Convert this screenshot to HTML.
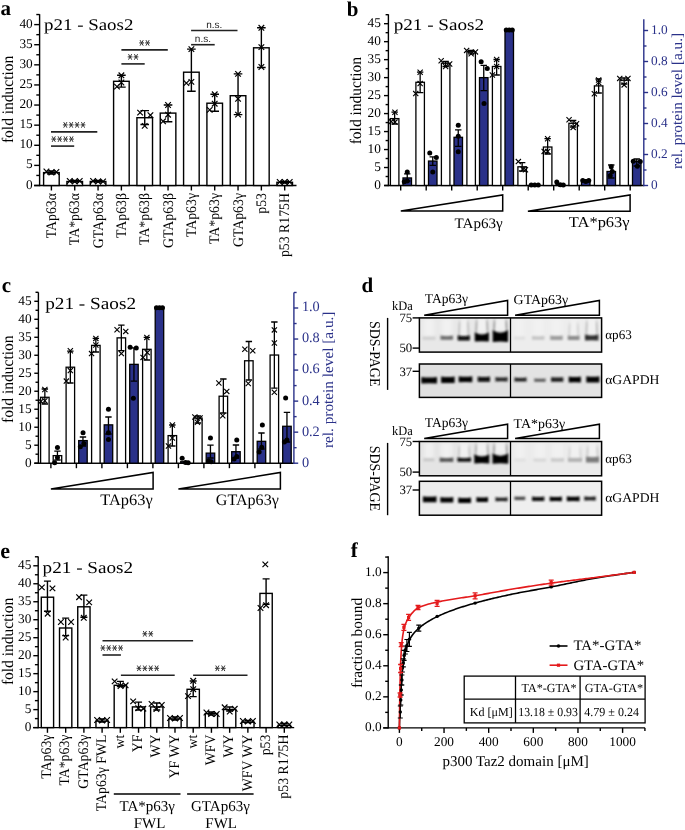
<!DOCTYPE html>
<html><head><meta charset="utf-8"><style>
html,body{margin:0;padding:0;background:#fff;}
svg{display:block;will-change:transform;}
text{text-rendering:geometricPrecision;}
</style></head><body>
<svg width="685" height="830" viewBox="0 0 685 830">
<rect width="685" height="830" fill="#fff"/>
<text x="0.5" y="14.7" font-family="&quot;Liberation Serif&quot;,serif" font-size="21" text-anchor="start" font-weight="bold" fill="#000" >a</text>
<line x1="39.6" y1="14.2" x2="39.6" y2="186.2" stroke="#000" stroke-width="1.4" />
<line x1="39.6" y1="185.5" x2="34.2" y2="185.5" stroke="#000" stroke-width="1.4" />
<text x="32.7" y="188.5" font-family="&quot;Liberation Serif&quot;,serif" font-size="13.3" text-anchor="end" font-weight="normal" fill="#000" >0</text>
<line x1="39.6" y1="165.39" x2="34.2" y2="165.39" stroke="#000" stroke-width="1.4" />
<text x="32.7" y="168.39" font-family="&quot;Liberation Serif&quot;,serif" font-size="13.3" text-anchor="end" font-weight="normal" fill="#000" >5</text>
<line x1="39.6" y1="145.28" x2="34.2" y2="145.28" stroke="#000" stroke-width="1.4" />
<text x="32.7" y="148.28" font-family="&quot;Liberation Serif&quot;,serif" font-size="13.3" text-anchor="end" font-weight="normal" fill="#000" >10</text>
<line x1="39.6" y1="125.16" x2="34.2" y2="125.16" stroke="#000" stroke-width="1.4" />
<text x="32.7" y="128.16" font-family="&quot;Liberation Serif&quot;,serif" font-size="13.3" text-anchor="end" font-weight="normal" fill="#000" >15</text>
<line x1="39.6" y1="105.05" x2="34.2" y2="105.05" stroke="#000" stroke-width="1.4" />
<text x="32.7" y="108.05" font-family="&quot;Liberation Serif&quot;,serif" font-size="13.3" text-anchor="end" font-weight="normal" fill="#000" >20</text>
<line x1="39.6" y1="84.94" x2="34.2" y2="84.94" stroke="#000" stroke-width="1.4" />
<text x="32.7" y="87.94" font-family="&quot;Liberation Serif&quot;,serif" font-size="13.3" text-anchor="end" font-weight="normal" fill="#000" >25</text>
<line x1="39.6" y1="64.83" x2="34.2" y2="64.83" stroke="#000" stroke-width="1.4" />
<text x="32.7" y="67.83" font-family="&quot;Liberation Serif&quot;,serif" font-size="13.3" text-anchor="end" font-weight="normal" fill="#000" >30</text>
<line x1="39.6" y1="44.71" x2="34.2" y2="44.71" stroke="#000" stroke-width="1.4" />
<text x="32.7" y="47.71" font-family="&quot;Liberation Serif&quot;,serif" font-size="13.3" text-anchor="end" font-weight="normal" fill="#000" >35</text>
<line x1="39.6" y1="24.6" x2="34.2" y2="24.6" stroke="#000" stroke-width="1.4" />
<text x="32.7" y="27.6" font-family="&quot;Liberation Serif&quot;,serif" font-size="13.3" text-anchor="end" font-weight="normal" fill="#000" >40</text>
<line x1="39.6" y1="175.44" x2="36.3" y2="175.44" stroke="#000" stroke-width="1.4" />
<line x1="39.6" y1="155.33" x2="36.3" y2="155.33" stroke="#000" stroke-width="1.4" />
<line x1="39.6" y1="135.22" x2="36.3" y2="135.22" stroke="#000" stroke-width="1.4" />
<line x1="39.6" y1="115.11" x2="36.3" y2="115.11" stroke="#000" stroke-width="1.4" />
<line x1="39.6" y1="94.99" x2="36.3" y2="94.99" stroke="#000" stroke-width="1.4" />
<line x1="39.6" y1="74.88" x2="36.3" y2="74.88" stroke="#000" stroke-width="1.4" />
<line x1="39.6" y1="54.77" x2="36.3" y2="54.77" stroke="#000" stroke-width="1.4" />
<line x1="39.6" y1="34.66" x2="36.3" y2="34.66" stroke="#000" stroke-width="1.4" />
<line x1="39.6" y1="14.54" x2="36.3" y2="14.54" stroke="#000" stroke-width="1.4" />
<line x1="34.1" y1="185.5" x2="296.5" y2="185.5" stroke="#000" stroke-width="1.4" />
<text x="13" y="99.4" font-family="&quot;Liberation Serif&quot;,serif" font-size="16.1" text-anchor="middle" font-weight="normal" fill="#000" transform="rotate(-90 13 99.4)" textLength="87.39" lengthAdjust="spacingAndGlyphs" >fold induction</text>
<text x="44.1" y="30.4" font-family="&quot;Liberation Serif&quot;,serif" font-size="16.3" text-anchor="start" font-weight="normal" fill="#000" textLength="89.3" lengthAdjust="spacingAndGlyphs" >p21 - Saos2</text>
<rect x="43.6" y="172.6" width="15.6" height="12.9" fill="#fff" stroke="#000" stroke-width="1.4" />
<line x1="51.4" y1="185.5" x2="51.4" y2="190.5" stroke="#000" stroke-width="1.4" />
<text x="56" y="193" font-family="&quot;Liberation Serif&quot;,serif" font-size="14.6" text-anchor="end" font-weight="normal" fill="#000" transform="rotate(-90 56 193)" textLength="45.22" lengthAdjust="spacingAndGlyphs" >TAp63α</text>
<rect x="66.93" y="181.5" width="15.6" height="4" fill="#fff" stroke="#000" stroke-width="1.4" />
<line x1="74.73" y1="185.5" x2="74.73" y2="190.5" stroke="#000" stroke-width="1.4" />
<text x="79.33" y="193" font-family="&quot;Liberation Serif&quot;,serif" font-size="14.6" text-anchor="end" font-weight="normal" fill="#000" transform="rotate(-90 79.33 193)" textLength="52.12" lengthAdjust="spacingAndGlyphs" >TA*p63α</text>
<rect x="90.26" y="181.5" width="15.6" height="4" fill="#fff" stroke="#000" stroke-width="1.4" />
<line x1="98.06" y1="185.5" x2="98.06" y2="190.5" stroke="#000" stroke-width="1.4" />
<text x="102.66" y="193" font-family="&quot;Liberation Serif&quot;,serif" font-size="14.6" text-anchor="end" font-weight="normal" fill="#000" transform="rotate(-90 102.66 193)" textLength="55.19" lengthAdjust="spacingAndGlyphs" >GTAp63α</text>
<rect x="113.59" y="81.3" width="15.6" height="104.2" fill="#fff" stroke="#000" stroke-width="1.4" />
<line x1="121.39" y1="185.5" x2="121.39" y2="190.5" stroke="#000" stroke-width="1.4" />
<text x="125.99" y="193" font-family="&quot;Liberation Serif&quot;,serif" font-size="14.6" text-anchor="end" font-weight="normal" fill="#000" transform="rotate(-90 125.99 193)" textLength="45.01" lengthAdjust="spacingAndGlyphs" >TAp63β</text>
<rect x="136.92" y="117.7" width="15.6" height="67.8" fill="#fff" stroke="#000" stroke-width="1.4" />
<line x1="144.72" y1="185.5" x2="144.72" y2="190.5" stroke="#000" stroke-width="1.4" />
<text x="149.32" y="193" font-family="&quot;Liberation Serif&quot;,serif" font-size="14.6" text-anchor="end" font-weight="normal" fill="#000" transform="rotate(-90 149.32 193)" textLength="51.91" lengthAdjust="spacingAndGlyphs" >TA*p63β</text>
<rect x="160.25" y="113.1" width="15.6" height="72.4" fill="#fff" stroke="#000" stroke-width="1.4" />
<line x1="168.05" y1="185.5" x2="168.05" y2="190.5" stroke="#000" stroke-width="1.4" />
<text x="172.65" y="193" font-family="&quot;Liberation Serif&quot;,serif" font-size="14.6" text-anchor="end" font-weight="normal" fill="#000" transform="rotate(-90 172.65 193)" textLength="54.98" lengthAdjust="spacingAndGlyphs" >GTAp63β</text>
<rect x="183.58" y="72.2" width="15.6" height="113.3" fill="#fff" stroke="#000" stroke-width="1.4" />
<line x1="191.38" y1="185.5" x2="191.38" y2="190.5" stroke="#000" stroke-width="1.4" />
<text x="195.98" y="193" font-family="&quot;Liberation Serif&quot;,serif" font-size="14.6" text-anchor="end" font-weight="normal" fill="#000" transform="rotate(-90 195.98 193)" textLength="44.09" lengthAdjust="spacingAndGlyphs" >TAp63γ</text>
<rect x="206.91" y="103.2" width="15.6" height="82.3" fill="#fff" stroke="#000" stroke-width="1.4" />
<line x1="214.71" y1="185.5" x2="214.71" y2="190.5" stroke="#000" stroke-width="1.4" />
<text x="219.31" y="193" font-family="&quot;Liberation Serif&quot;,serif" font-size="14.6" text-anchor="end" font-weight="normal" fill="#000" transform="rotate(-90 219.31 193)" textLength="50.99" lengthAdjust="spacingAndGlyphs" >TA*p63γ</text>
<rect x="230.24" y="95.7" width="15.6" height="89.8" fill="#fff" stroke="#000" stroke-width="1.4" />
<line x1="238.04" y1="185.5" x2="238.04" y2="190.5" stroke="#000" stroke-width="1.4" />
<text x="242.64" y="193" font-family="&quot;Liberation Serif&quot;,serif" font-size="14.6" text-anchor="end" font-weight="normal" fill="#000" transform="rotate(-90 242.64 193)" textLength="54.05" lengthAdjust="spacingAndGlyphs" >GTAp63γ</text>
<rect x="253.57" y="47.8" width="15.6" height="137.7" fill="#fff" stroke="#000" stroke-width="1.4" />
<line x1="261.37" y1="185.5" x2="261.37" y2="190.5" stroke="#000" stroke-width="1.4" />
<text x="265.97" y="193" font-family="&quot;Liberation Serif&quot;,serif" font-size="14.6" text-anchor="end" font-weight="normal" fill="#000" transform="rotate(-90 265.97 193)" textLength="20.7" lengthAdjust="spacingAndGlyphs" >p53</text>
<rect x="276.9" y="182.3" width="15.6" height="3.2" fill="#fff" stroke="#000" stroke-width="1.4" />
<line x1="284.7" y1="185.5" x2="284.7" y2="190.5" stroke="#000" stroke-width="1.4" />
<text x="289.3" y="193" font-family="&quot;Liberation Serif&quot;,serif" font-size="14.6" text-anchor="end" font-weight="normal" fill="#000" transform="rotate(-90 289.3 193)" textLength="64.02" lengthAdjust="spacingAndGlyphs" >p53 R175H</text>
<path d="M51.4,171V174M47.1,171H55.7M47.1,174H55.7" stroke="#000" stroke-width="1.4" fill="none"/>
<path d="M43.6,168.7L49.2,174.3M43.6,174.3L49.2,168.7" stroke="#000" stroke-width="1.2" fill="none"/>
<path d="M48.6,169.7L54.2,175.3M48.6,175.3L54.2,169.7" stroke="#000" stroke-width="1.2" fill="none"/>
<path d="M53.6,169.2L59.2,174.8M53.6,174.8L59.2,169.2" stroke="#000" stroke-width="1.2" fill="none"/>
<path d="M74.73,180.5V182M70.43,180.5H79.03M70.43,182H79.03" stroke="#000" stroke-width="1.4" fill="none"/>
<path d="M66.93,178.2L72.53,183.8M66.93,183.8L72.53,178.2" stroke="#000" stroke-width="1.2" fill="none"/>
<path d="M71.93,178.7L77.53,184.3M71.93,184.3L77.53,178.7" stroke="#000" stroke-width="1.2" fill="none"/>
<path d="M76.93,178.2L82.53,183.8M76.93,183.8L82.53,178.2" stroke="#000" stroke-width="1.2" fill="none"/>
<path d="M98.06,180.5V182M93.76,180.5H102.36M93.76,182H102.36" stroke="#000" stroke-width="1.4" fill="none"/>
<path d="M90.26,178.2L95.86,183.8M90.26,183.8L95.86,178.2" stroke="#000" stroke-width="1.2" fill="none"/>
<path d="M95.26,178.7L100.86,184.3M95.26,184.3L100.86,178.7" stroke="#000" stroke-width="1.2" fill="none"/>
<path d="M100.26,178.7L105.86,184.3M100.26,184.3L105.86,178.7" stroke="#000" stroke-width="1.2" fill="none"/>
<path d="M121.39,75.3V87.1M117.09,75.3H125.69M117.09,87.1H125.69" stroke="#000" stroke-width="1.4" fill="none"/>
<path d="M118.59,72.5L124.19,78.1M118.59,78.1L124.19,72.5" stroke="#000" stroke-width="1.2" fill="none"/>
<path d="M118.59,79.7L124.19,85.3M118.59,85.3L124.19,79.7" stroke="#000" stroke-width="1.2" fill="none"/>
<path d="M114.19,83.8L119.79,89.4M114.19,89.4L119.79,83.8" stroke="#000" stroke-width="1.2" fill="none"/>
<path d="M144.72,110.6V124.5M140.42,110.6H149.02M140.42,124.5H149.02" stroke="#000" stroke-width="1.4" fill="none"/>
<path d="M137.32,109.8L142.92,115.4M137.32,115.4L142.92,109.8" stroke="#000" stroke-width="1.2" fill="none"/>
<path d="M147.62,112.4L153.22,118M147.62,118L153.22,112.4" stroke="#000" stroke-width="1.2" fill="none"/>
<path d="M141.92,123.1L147.52,128.7M141.92,128.7L147.52,123.1" stroke="#000" stroke-width="1.2" fill="none"/>
<path d="M168.05,105V121.8M163.75,105H172.35M163.75,121.8H172.35" stroke="#000" stroke-width="1.4" fill="none"/>
<path d="M165.25,102.2L170.85,107.8M165.25,107.8L170.85,102.2" stroke="#000" stroke-width="1.2" fill="none"/>
<path d="M165.25,111.9L170.85,117.5M165.25,117.5L170.85,111.9" stroke="#000" stroke-width="1.2" fill="none"/>
<path d="M160.25,118.5L165.85,124.1M160.25,124.1L165.85,118.5" stroke="#000" stroke-width="1.2" fill="none"/>
<path d="M191.38,49.1V91.3M187.08,49.1H195.68M187.08,91.3H195.68" stroke="#000" stroke-width="1.4" fill="none"/>
<path d="M188.58,46.3L194.18,51.9M188.58,51.9L194.18,46.3" stroke="#000" stroke-width="1.2" fill="none"/>
<path d="M183.58,80.3L189.18,85.9M183.58,85.9L189.18,80.3" stroke="#000" stroke-width="1.2" fill="none"/>
<path d="M188.58,79.1L194.18,84.7M188.58,84.7L194.18,79.1" stroke="#000" stroke-width="1.2" fill="none"/>
<path d="M214.71,94.3V111.2M210.41,94.3H219.01M210.41,111.2H219.01" stroke="#000" stroke-width="1.4" fill="none"/>
<path d="M211.91,91.5L217.51,97.1M211.91,97.1L217.51,91.5" stroke="#000" stroke-width="1.2" fill="none"/>
<path d="M211.91,100.9L217.51,106.5M211.91,106.5L217.51,100.9" stroke="#000" stroke-width="1.2" fill="none"/>
<path d="M206.91,107.1L212.51,112.7M206.91,112.7L212.51,107.1" stroke="#000" stroke-width="1.2" fill="none"/>
<path d="M238.04,73.9V114.6M233.74,73.9H242.34M233.74,114.6H242.34" stroke="#000" stroke-width="1.4" fill="none"/>
<path d="M235.24,71.1L240.84,76.7M235.24,76.7L240.84,71.1" stroke="#000" stroke-width="1.2" fill="none"/>
<path d="M235.24,96L240.84,101.6M235.24,101.6L240.84,96" stroke="#000" stroke-width="1.2" fill="none"/>
<path d="M235.24,111.8L240.84,117.4M235.24,117.4L240.84,111.8" stroke="#000" stroke-width="1.2" fill="none"/>
<path d="M261.37,27.8V67.5M257.07,27.8H265.67M257.07,67.5H265.67" stroke="#000" stroke-width="1.4" fill="none"/>
<path d="M258.57,25L264.17,30.6M258.57,30.6L264.17,25" stroke="#000" stroke-width="1.2" fill="none"/>
<path d="M258.57,44.3L264.17,49.9M258.57,49.9L264.17,44.3" stroke="#000" stroke-width="1.2" fill="none"/>
<path d="M258.57,64.2L264.17,69.8M258.57,69.8L264.17,64.2" stroke="#000" stroke-width="1.2" fill="none"/>
<path d="M284.7,181.5V183M280.4,181.5H289M280.4,183H289" stroke="#000" stroke-width="1.4" fill="none"/>
<path d="M276.9,179.2L282.5,184.8M276.9,184.8L282.5,179.2" stroke="#000" stroke-width="1.2" fill="none"/>
<path d="M281.9,179.2L287.5,184.8M281.9,184.8L287.5,179.2" stroke="#000" stroke-width="1.2" fill="none"/>
<path d="M286.9,179.2L292.5,184.8M286.9,184.8L292.5,179.2" stroke="#000" stroke-width="1.2" fill="none"/>
<line x1="51" y1="131.9" x2="97.3" y2="131.9" stroke="#222" stroke-width="1.6" />
<path d="M63.3,124.9L67.3,124.9M63.9,122.48L66.7,127.32M66.7,122.48L63.9,127.32M69.2,124.9L73.2,124.9M69.8,122.48L72.6,127.32M72.6,122.48L69.8,127.32M75.1,124.9L79.1,124.9M75.7,122.48L78.5,127.32M78.5,122.48L75.7,127.32M81,124.9L85,124.9M81.6,122.48L84.4,127.32M84.4,122.48L81.6,127.32" stroke="#333" stroke-width="1.0" fill="none" stroke-linecap="round"/>
<line x1="51" y1="146.1" x2="74.2" y2="146.1" stroke="#222" stroke-width="1.6" />
<path d="M51.75,139.1L55.75,139.1M52.35,136.68L55.15,141.52M55.15,136.68L52.35,141.52M57.65,139.1L61.65,139.1M58.25,136.68L61.05,141.52M61.05,136.68L58.25,141.52M63.55,139.1L67.55,139.1M64.15,136.68L66.95,141.52M66.95,136.68L64.15,141.52M69.45,139.1L73.45,139.1M70.05,136.68L72.85,141.52M72.85,136.68L70.05,141.52" stroke="#333" stroke-width="1.0" fill="none" stroke-linecap="round"/>
<line x1="121.4" y1="49.9" x2="167.8" y2="49.9" stroke="#222" stroke-width="1.6" />
<path d="M139.65,42.9L143.65,42.9M140.25,40.48L143.05,45.32M143.05,40.48L140.25,45.32M145.55,42.9L149.55,42.9M146.15,40.48L148.95,45.32M148.95,40.48L146.15,45.32" stroke="#333" stroke-width="1.0" fill="none" stroke-linecap="round"/>
<line x1="121.4" y1="63.9" x2="144.7" y2="63.9" stroke="#222" stroke-width="1.6" />
<path d="M128.1,56.9L132.1,56.9M128.7,54.48L131.5,59.32M131.5,54.48L128.7,59.32M134,56.9L138,56.9M134.6,54.48L137.4,59.32M137.4,54.48L134.6,59.32" stroke="#333" stroke-width="1.0" fill="none" stroke-linecap="round"/>
<line x1="191.1" y1="30.5" x2="237.5" y2="30.5" stroke="#222" stroke-width="1.6" />
<text x="214.3" y="27.8" font-family="&quot;Liberation Sans&quot;,sans-serif" font-size="10" text-anchor="middle" font-weight="normal" fill="#222" >n.s.</text>
<line x1="191.1" y1="44.7" x2="214.7" y2="44.7" stroke="#222" stroke-width="1.6" />
<text x="202.9" y="42" font-family="&quot;Liberation Sans&quot;,sans-serif" font-size="10" text-anchor="middle" font-weight="normal" fill="#222" >n.s.</text>
<text x="346.8" y="15.8" font-family="&quot;Liberation Serif&quot;,serif" font-size="21" text-anchor="start" font-weight="bold" fill="#000" >b</text>
<line x1="388.4" y1="14.3" x2="388.4" y2="186.2" stroke="#000" stroke-width="1.4" />
<line x1="388.4" y1="185.5" x2="384" y2="185.5" stroke="#000" stroke-width="1.4" />
<text x="380.8" y="188.7" font-family="&quot;Liberation Serif&quot;,serif" font-size="13.3" text-anchor="end" font-weight="normal" fill="#000" >0</text>
<line x1="388.4" y1="167.52" x2="384" y2="167.52" stroke="#000" stroke-width="1.4" />
<text x="380.8" y="170.72" font-family="&quot;Liberation Serif&quot;,serif" font-size="13.3" text-anchor="end" font-weight="normal" fill="#000" >5</text>
<line x1="388.4" y1="149.54" x2="384" y2="149.54" stroke="#000" stroke-width="1.4" />
<text x="380.8" y="152.74" font-family="&quot;Liberation Serif&quot;,serif" font-size="13.3" text-anchor="end" font-weight="normal" fill="#000" >10</text>
<line x1="388.4" y1="131.56" x2="384" y2="131.56" stroke="#000" stroke-width="1.4" />
<text x="380.8" y="134.76" font-family="&quot;Liberation Serif&quot;,serif" font-size="13.3" text-anchor="end" font-weight="normal" fill="#000" >15</text>
<line x1="388.4" y1="113.58" x2="384" y2="113.58" stroke="#000" stroke-width="1.4" />
<text x="380.8" y="116.78" font-family="&quot;Liberation Serif&quot;,serif" font-size="13.3" text-anchor="end" font-weight="normal" fill="#000" >20</text>
<line x1="388.4" y1="95.6" x2="384" y2="95.6" stroke="#000" stroke-width="1.4" />
<text x="380.8" y="98.8" font-family="&quot;Liberation Serif&quot;,serif" font-size="13.3" text-anchor="end" font-weight="normal" fill="#000" >25</text>
<line x1="388.4" y1="77.62" x2="384" y2="77.62" stroke="#000" stroke-width="1.4" />
<text x="380.8" y="80.82" font-family="&quot;Liberation Serif&quot;,serif" font-size="13.3" text-anchor="end" font-weight="normal" fill="#000" >30</text>
<line x1="388.4" y1="59.64" x2="384" y2="59.64" stroke="#000" stroke-width="1.4" />
<text x="380.8" y="62.84" font-family="&quot;Liberation Serif&quot;,serif" font-size="13.3" text-anchor="end" font-weight="normal" fill="#000" >35</text>
<line x1="388.4" y1="41.66" x2="384" y2="41.66" stroke="#000" stroke-width="1.4" />
<text x="380.8" y="44.86" font-family="&quot;Liberation Serif&quot;,serif" font-size="13.3" text-anchor="end" font-weight="normal" fill="#000" >40</text>
<line x1="388.4" y1="23.68" x2="384" y2="23.68" stroke="#000" stroke-width="1.4" />
<text x="380.8" y="26.88" font-family="&quot;Liberation Serif&quot;,serif" font-size="13.3" text-anchor="end" font-weight="normal" fill="#000" >45</text>
<line x1="388.4" y1="176.51" x2="385.6" y2="176.51" stroke="#000" stroke-width="1.4" />
<line x1="388.4" y1="158.53" x2="385.6" y2="158.53" stroke="#000" stroke-width="1.4" />
<line x1="388.4" y1="140.55" x2="385.6" y2="140.55" stroke="#000" stroke-width="1.4" />
<line x1="388.4" y1="122.57" x2="385.6" y2="122.57" stroke="#000" stroke-width="1.4" />
<line x1="388.4" y1="104.59" x2="385.6" y2="104.59" stroke="#000" stroke-width="1.4" />
<line x1="388.4" y1="86.61" x2="385.6" y2="86.61" stroke="#000" stroke-width="1.4" />
<line x1="388.4" y1="68.63" x2="385.6" y2="68.63" stroke="#000" stroke-width="1.4" />
<line x1="388.4" y1="50.65" x2="385.6" y2="50.65" stroke="#000" stroke-width="1.4" />
<line x1="388.4" y1="32.67" x2="385.6" y2="32.67" stroke="#000" stroke-width="1.4" />
<line x1="388.4" y1="14.69" x2="385.6" y2="14.69" stroke="#000" stroke-width="1.4" />
<line x1="384.3" y1="185.5" x2="643.8" y2="185.5" stroke="#000" stroke-width="1.4" />
<line x1="643.8" y1="19.2" x2="643.8" y2="186.2" stroke="#2a3189" stroke-width="1.4" />
<line x1="643.8" y1="185.5" x2="648.1" y2="185.5" stroke="#2a3189" stroke-width="1.4" />
<text x="651" y="188.7" font-family="&quot;Liberation Serif&quot;,serif" font-size="13.3" text-anchor="start" font-weight="normal" fill="#2a3189" >0</text>
<line x1="643.8" y1="154.5" x2="648.1" y2="154.5" stroke="#2a3189" stroke-width="1.4" />
<text x="651" y="157.7" font-family="&quot;Liberation Serif&quot;,serif" font-size="13.3" text-anchor="start" font-weight="normal" fill="#2a3189" >0.2</text>
<line x1="643.8" y1="123.5" x2="648.1" y2="123.5" stroke="#2a3189" stroke-width="1.4" />
<text x="651" y="126.7" font-family="&quot;Liberation Serif&quot;,serif" font-size="13.3" text-anchor="start" font-weight="normal" fill="#2a3189" >0.4</text>
<line x1="643.8" y1="92.5" x2="648.1" y2="92.5" stroke="#2a3189" stroke-width="1.4" />
<text x="651" y="95.7" font-family="&quot;Liberation Serif&quot;,serif" font-size="13.3" text-anchor="start" font-weight="normal" fill="#2a3189" >0.6</text>
<line x1="643.8" y1="61.5" x2="648.1" y2="61.5" stroke="#2a3189" stroke-width="1.4" />
<text x="651" y="64.7" font-family="&quot;Liberation Serif&quot;,serif" font-size="13.3" text-anchor="start" font-weight="normal" fill="#2a3189" >0.8</text>
<line x1="643.8" y1="30.5" x2="648.1" y2="30.5" stroke="#2a3189" stroke-width="1.4" />
<text x="651" y="33.7" font-family="&quot;Liberation Serif&quot;,serif" font-size="13.3" text-anchor="start" font-weight="normal" fill="#2a3189" >1.0</text>
<line x1="643.8" y1="170" x2="646.5" y2="170" stroke="#2a3189" stroke-width="1.4" />
<line x1="643.8" y1="139" x2="646.5" y2="139" stroke="#2a3189" stroke-width="1.4" />
<line x1="643.8" y1="108" x2="646.5" y2="108" stroke="#2a3189" stroke-width="1.4" />
<line x1="643.8" y1="77" x2="646.5" y2="77" stroke="#2a3189" stroke-width="1.4" />
<line x1="643.8" y1="46" x2="646.5" y2="46" stroke="#2a3189" stroke-width="1.4" />
<text x="361.5" y="100.6" font-family="&quot;Liberation Serif&quot;,serif" font-size="16.1" text-anchor="middle" font-weight="normal" fill="#000" transform="rotate(-90 361.5 100.6)" textLength="87.39" lengthAdjust="spacingAndGlyphs" >fold induction</text>
<text x="682" y="101" font-family="&quot;Liberation Serif&quot;,serif" font-size="15" text-anchor="middle" font-weight="normal" fill="#2a3189" transform="rotate(-90 682 101)" textLength="136" lengthAdjust="spacingAndGlyphs" >rel. protein level [a.u.]</text>
<text x="393.7" y="30.3" font-family="&quot;Liberation Serif&quot;,serif" font-size="16.3" text-anchor="start" font-weight="normal" fill="#000" textLength="90.3" lengthAdjust="spacingAndGlyphs" >p21 - Saos2</text>
<line x1="400.7" y1="185.5" x2="400.7" y2="190.5" stroke="#000" stroke-width="1.4" />
<rect x="390.4" y="118.61" width="8.5" height="66.89" fill="#fff" stroke="#000" stroke-width="1.3" />
<rect x="403" y="177.95" width="8.5" height="7.55" fill="#2a3189" stroke="#000" stroke-width="1.3" />
<path d="M394.65,112.2V124M391.45,112.2H397.85M391.45,124H397.85" stroke="#000" stroke-width="1.3" fill="none"/>
<path d="M392.35,109.6L397.55,114.8M392.35,114.8L397.55,109.6" stroke="#000" stroke-width="1.1" fill="none"/>
<path d="M388.65,119L393.85,124.2M388.65,124.2L393.85,119" stroke="#000" stroke-width="1.1" fill="none"/>
<path d="M392.35,119.5L397.55,124.7M392.35,124.7L397.55,119.5" stroke="#000" stroke-width="1.1" fill="none"/>
<path d="M407.25,173.9V181M404.05,173.9H410.45M404.05,181H410.45" stroke="#000" stroke-width="1.3" fill="none"/>
<circle cx="407.25" cy="171.9" r="2.5" fill="#000"/>
<circle cx="407.25" cy="181.1" r="2.5" fill="#000"/>
<circle cx="404.25" cy="181.8" r="2.5" fill="#000"/>
<line x1="426.2" y1="185.5" x2="426.2" y2="190.5" stroke="#000" stroke-width="1.4" />
<rect x="415.9" y="82.29" width="8.5" height="103.21" fill="#fff" stroke="#000" stroke-width="1.3" />
<rect x="428.5" y="161.05" width="8.5" height="24.45" fill="#2a3189" stroke="#000" stroke-width="1.3" />
<path d="M420.15,72.2V92.7M416.95,72.2H423.35M416.95,92.7H423.35" stroke="#000" stroke-width="1.3" fill="none"/>
<path d="M417.55,69.6L422.75,74.8M417.55,74.8L422.75,69.6" stroke="#000" stroke-width="1.1" fill="none"/>
<path d="M417.55,81L422.75,86.2M417.55,86.2L422.75,81" stroke="#000" stroke-width="1.1" fill="none"/>
<path d="M413.15,91L418.35,96.2M413.15,96.2L418.35,91" stroke="#000" stroke-width="1.1" fill="none"/>
<path d="M432.75,156.8V165.3M429.55,156.8H435.95M429.55,165.3H435.95" stroke="#000" stroke-width="1.3" fill="none"/>
<circle cx="429.75" cy="152.9" r="2.5" fill="#000"/>
<circle cx="436.35" cy="157.5" r="2.5" fill="#000"/>
<circle cx="432.75" cy="171.9" r="2.5" fill="#000"/>
<line x1="451.7" y1="185.5" x2="451.7" y2="190.5" stroke="#000" stroke-width="1.4" />
<rect x="441.4" y="63.24" width="8.5" height="122.26" fill="#fff" stroke="#000" stroke-width="1.3" />
<rect x="454" y="137.31" width="8.5" height="48.19" fill="#2a3189" stroke="#000" stroke-width="1.3" />
<path d="M445.65,61.5V66.5M442.45,61.5H448.85M442.45,66.5H448.85" stroke="#000" stroke-width="1.3" fill="none"/>
<path d="M438.55,58.2L443.75,63.4M438.55,63.4L443.75,58.2" stroke="#000" stroke-width="1.1" fill="none"/>
<path d="M443.05,63.9L448.25,69.1M443.05,69.1L448.25,63.9" stroke="#000" stroke-width="1.1" fill="none"/>
<path d="M447.05,61.4L452.25,66.6M447.05,66.6L452.25,61.4" stroke="#000" stroke-width="1.1" fill="none"/>
<path d="M458.25,129.9V146.3M455.05,129.9H461.45M455.05,146.3H461.45" stroke="#000" stroke-width="1.3" fill="none"/>
<circle cx="458.25" cy="125.3" r="2.5" fill="#000"/>
<circle cx="458.25" cy="136.2" r="2.5" fill="#000"/>
<circle cx="458.25" cy="151.8" r="2.5" fill="#000"/>
<line x1="477.2" y1="185.5" x2="477.2" y2="190.5" stroke="#000" stroke-width="1.4" />
<rect x="466.9" y="51.73" width="8.5" height="133.77" fill="#fff" stroke="#000" stroke-width="1.3" />
<rect x="479.5" y="77.62" width="8.5" height="107.88" fill="#2a3189" stroke="#000" stroke-width="1.3" />
<path d="M471.15,50.4V53.8M467.95,50.4H474.35M467.95,53.8H474.35" stroke="#000" stroke-width="1.3" fill="none"/>
<path d="M464.05,47.8L469.25,53M464.05,53L469.25,47.8" stroke="#000" stroke-width="1.1" fill="none"/>
<path d="M468.55,51.2L473.75,56.4M468.55,56.4L473.75,51.2" stroke="#000" stroke-width="1.1" fill="none"/>
<path d="M472.85,49.3L478.05,54.5M472.85,54.5L478.05,49.3" stroke="#000" stroke-width="1.1" fill="none"/>
<path d="M483.75,65.3V90.6M480.55,65.3H486.95M480.55,90.6H486.95" stroke="#000" stroke-width="1.3" fill="none"/>
<circle cx="481.15" cy="61.7" r="2.5" fill="#000"/>
<circle cx="487.25" cy="68.4" r="2.5" fill="#000"/>
<circle cx="484.05" cy="103.5" r="2.5" fill="#000"/>
<line x1="502.7" y1="185.5" x2="502.7" y2="190.5" stroke="#000" stroke-width="1.4" />
<rect x="492.4" y="66.47" width="8.5" height="119.03" fill="#fff" stroke="#000" stroke-width="1.3" />
<rect x="505" y="29.43" width="8.5" height="156.07" fill="#2a3189" stroke="#000" stroke-width="1.3" />
<path d="M496.65,59.5V75M493.45,59.5H499.85M493.45,75H499.85" stroke="#000" stroke-width="1.3" fill="none"/>
<path d="M494.05,56.9L499.25,62.1M494.05,62.1L499.25,56.9" stroke="#000" stroke-width="1.1" fill="none"/>
<path d="M494.05,63.9L499.25,69.1M494.05,69.1L499.25,63.9" stroke="#000" stroke-width="1.1" fill="none"/>
<path d="M489.75,72.4L494.95,77.6M489.75,77.6L494.95,72.4" stroke="#000" stroke-width="1.1" fill="none"/>
<circle cx="506.25" cy="30" r="2.5" fill="#000"/>
<circle cx="509.25" cy="30" r="2.5" fill="#000"/>
<circle cx="512.25" cy="30" r="2.5" fill="#000"/>
<line x1="528.2" y1="185.5" x2="528.2" y2="190.5" stroke="#000" stroke-width="1.4" />
<rect x="517.9" y="166.8" width="8.5" height="18.7" fill="#fff" stroke="#000" stroke-width="1.3" />
<path d="M522.15,162.6V171M518.95,162.6H525.35M518.95,171H525.35" stroke="#000" stroke-width="1.3" fill="none"/>
<path d="M515.75,159L520.95,164.2M515.75,164.2L520.95,159" stroke="#000" stroke-width="1.1" fill="none"/>
<path d="M520.45,166.7L525.65,171.9M520.45,171.9L525.65,166.7" stroke="#000" stroke-width="1.1" fill="none"/>
<path d="M522.85,167.1L528.05,172.3M522.85,172.3L528.05,167.1" stroke="#000" stroke-width="1.1" fill="none"/>
<circle cx="531.25" cy="185" r="2.5" fill="#000"/>
<circle cx="534.75" cy="185" r="2.5" fill="#000"/>
<circle cx="538.25" cy="185" r="2.5" fill="#000"/>
<line x1="553.7" y1="185.5" x2="553.7" y2="190.5" stroke="#000" stroke-width="1.4" />
<rect x="543.4" y="147.02" width="8.5" height="38.48" fill="#fff" stroke="#000" stroke-width="1.3" />
<rect x="556" y="184.06" width="8.5" height="1.44" fill="#2a3189" stroke="#000" stroke-width="1.3" />
<path d="M547.65,138.7V154M544.45,138.7H550.85M544.45,154H550.85" stroke="#000" stroke-width="1.3" fill="none"/>
<path d="M545.05,136.1L550.25,141.3M545.05,141.3L550.25,136.1" stroke="#000" stroke-width="1.1" fill="none"/>
<path d="M541.55,148.8L546.75,154M541.55,154L546.75,148.8" stroke="#000" stroke-width="1.1" fill="none"/>
<path d="M545.05,148.8L550.25,154M545.05,154L550.25,148.8" stroke="#000" stroke-width="1.1" fill="none"/>
<circle cx="556.75" cy="182" r="2.5" fill="#000"/>
<circle cx="560.25" cy="184.7" r="2.5" fill="#000"/>
<circle cx="563.25" cy="185" r="2.5" fill="#000"/>
<line x1="579.2" y1="185.5" x2="579.2" y2="190.5" stroke="#000" stroke-width="1.4" />
<rect x="568.9" y="123.29" width="8.5" height="62.21" fill="#fff" stroke="#000" stroke-width="1.3" />
<rect x="581.5" y="179.75" width="8.5" height="5.75" fill="#2a3189" stroke="#000" stroke-width="1.3" />
<path d="M573.15,120.5V127M569.95,120.5H576.35M569.95,127H576.35" stroke="#000" stroke-width="1.3" fill="none"/>
<path d="M566.45,117.1L571.65,122.3M566.45,122.3L571.65,117.1" stroke="#000" stroke-width="1.1" fill="none"/>
<path d="M570.55,124.8L575.75,130M570.55,130L575.75,124.8" stroke="#000" stroke-width="1.1" fill="none"/>
<path d="M573.95,121.2L579.15,126.4M573.95,126.4L579.15,121.2" stroke="#000" stroke-width="1.1" fill="none"/>
<circle cx="582.75" cy="180.6" r="2.5" fill="#000"/>
<circle cx="585.75" cy="181.6" r="2.5" fill="#000"/>
<circle cx="588.75" cy="180.6" r="2.5" fill="#000"/>
<line x1="604.7" y1="185.5" x2="604.7" y2="190.5" stroke="#000" stroke-width="1.4" />
<rect x="594.4" y="85.89" width="8.5" height="99.61" fill="#fff" stroke="#000" stroke-width="1.3" />
<rect x="607" y="171.48" width="8.5" height="14.02" fill="#2a3189" stroke="#000" stroke-width="1.3" />
<path d="M598.65,79V93M595.45,79H601.85M595.45,93H601.85" stroke="#000" stroke-width="1.3" fill="none"/>
<path d="M591.75,91.1L596.95,96.3M591.75,96.3L596.95,91.1" stroke="#000" stroke-width="1.1" fill="none"/>
<path d="M596.05,77.4L601.25,82.6M596.05,82.6L601.25,77.4" stroke="#000" stroke-width="1.1" fill="none"/>
<path d="M596.05,79.9L601.25,85.1M596.05,85.1L601.25,79.9" stroke="#000" stroke-width="1.1" fill="none"/>
<path d="M611.25,165V178M608.05,165H614.45M608.05,178H614.45" stroke="#000" stroke-width="1.3" fill="none"/>
<circle cx="611.25" cy="166.7" r="2.5" fill="#000"/>
<circle cx="610.25" cy="175.5" r="2.5" fill="#000"/>
<circle cx="612.25" cy="171.4" r="2.5" fill="#000"/>
<line x1="630.2" y1="185.5" x2="630.2" y2="190.5" stroke="#000" stroke-width="1.4" />
<rect x="619.9" y="80.14" width="8.5" height="105.36" fill="#fff" stroke="#000" stroke-width="1.3" />
<rect x="632.5" y="161.41" width="8.5" height="24.09" fill="#2a3189" stroke="#000" stroke-width="1.3" />
<path d="M624.15,78V84M620.95,78H627.35M620.95,84H627.35" stroke="#000" stroke-width="1.3" fill="none"/>
<path d="M617.15,75.8L622.35,81M617.15,81L622.35,75.8" stroke="#000" stroke-width="1.1" fill="none"/>
<path d="M625.35,75.8L630.55,81M625.35,81L630.55,75.8" stroke="#000" stroke-width="1.1" fill="none"/>
<path d="M621.55,82.3L626.75,87.5M621.55,87.5L626.75,82.3" stroke="#000" stroke-width="1.1" fill="none"/>
<path d="M636.75,159V166M633.55,159H639.95M633.55,166H639.95" stroke="#000" stroke-width="1.3" fill="none"/>
<circle cx="633.25" cy="161.2" r="2.5" fill="#000"/>
<circle cx="637.35" cy="166.3" r="2.5" fill="#000"/>
<circle cx="640.25" cy="161.6" r="2.5" fill="#000"/>
<polygon points="400.8,210.9 502.7,194.9 502.7,210.9" fill="#fff" stroke="#000" stroke-width="1.5" stroke-linejoin="miter"/>
<text x="454.6" y="227.6" font-family="&quot;Liberation Serif&quot;,serif" font-size="14.5" text-anchor="start" font-weight="normal" fill="#000" textLength="48.2" lengthAdjust="spacingAndGlyphs" >TAp63γ</text>
<polygon points="527.9,211.3 630.1,194.9 630.1,211.3" fill="#fff" stroke="#000" stroke-width="1.5" stroke-linejoin="miter"/>
<text x="568.8" y="227.3" font-family="&quot;Liberation Serif&quot;,serif" font-size="15" text-anchor="start" font-weight="normal" fill="#000" textLength="60.8" lengthAdjust="spacingAndGlyphs" >TA*p63γ</text>
<text x="1.8" y="291.5" font-family="&quot;Liberation Serif&quot;,serif" font-size="21" text-anchor="start" font-weight="bold" fill="#000" >c</text>
<line x1="38.4" y1="292.3" x2="38.4" y2="463.9" stroke="#000" stroke-width="1.4" />
<line x1="38.4" y1="463.2" x2="34.3" y2="463.2" stroke="#000" stroke-width="1.4" />
<text x="31.6" y="466.6" font-family="&quot;Liberation Serif&quot;,serif" font-size="13.3" text-anchor="end" font-weight="normal" fill="#000" >0</text>
<line x1="38.4" y1="445.21" x2="34.3" y2="445.21" stroke="#000" stroke-width="1.4" />
<text x="31.6" y="448.61" font-family="&quot;Liberation Serif&quot;,serif" font-size="13.3" text-anchor="end" font-weight="normal" fill="#000" >5</text>
<line x1="38.4" y1="427.22" x2="34.3" y2="427.22" stroke="#000" stroke-width="1.4" />
<text x="31.6" y="430.62" font-family="&quot;Liberation Serif&quot;,serif" font-size="13.3" text-anchor="end" font-weight="normal" fill="#000" >10</text>
<line x1="38.4" y1="409.23" x2="34.3" y2="409.23" stroke="#000" stroke-width="1.4" />
<text x="31.6" y="412.63" font-family="&quot;Liberation Serif&quot;,serif" font-size="13.3" text-anchor="end" font-weight="normal" fill="#000" >15</text>
<line x1="38.4" y1="391.24" x2="34.3" y2="391.24" stroke="#000" stroke-width="1.4" />
<text x="31.6" y="394.64" font-family="&quot;Liberation Serif&quot;,serif" font-size="13.3" text-anchor="end" font-weight="normal" fill="#000" >20</text>
<line x1="38.4" y1="373.25" x2="34.3" y2="373.25" stroke="#000" stroke-width="1.4" />
<text x="31.6" y="376.65" font-family="&quot;Liberation Serif&quot;,serif" font-size="13.3" text-anchor="end" font-weight="normal" fill="#000" >25</text>
<line x1="38.4" y1="355.26" x2="34.3" y2="355.26" stroke="#000" stroke-width="1.4" />
<text x="31.6" y="358.66" font-family="&quot;Liberation Serif&quot;,serif" font-size="13.3" text-anchor="end" font-weight="normal" fill="#000" >30</text>
<line x1="38.4" y1="337.27" x2="34.3" y2="337.27" stroke="#000" stroke-width="1.4" />
<text x="31.6" y="340.67" font-family="&quot;Liberation Serif&quot;,serif" font-size="13.3" text-anchor="end" font-weight="normal" fill="#000" >35</text>
<line x1="38.4" y1="319.28" x2="34.3" y2="319.28" stroke="#000" stroke-width="1.4" />
<text x="31.6" y="322.68" font-family="&quot;Liberation Serif&quot;,serif" font-size="13.3" text-anchor="end" font-weight="normal" fill="#000" >40</text>
<line x1="38.4" y1="301.29" x2="34.3" y2="301.29" stroke="#000" stroke-width="1.4" />
<text x="31.6" y="304.69" font-family="&quot;Liberation Serif&quot;,serif" font-size="13.3" text-anchor="end" font-weight="normal" fill="#000" >45</text>
<line x1="38.4" y1="454.2" x2="35.5" y2="454.2" stroke="#000" stroke-width="1.4" />
<line x1="38.4" y1="436.21" x2="35.5" y2="436.21" stroke="#000" stroke-width="1.4" />
<line x1="38.4" y1="418.22" x2="35.5" y2="418.22" stroke="#000" stroke-width="1.4" />
<line x1="38.4" y1="400.24" x2="35.5" y2="400.24" stroke="#000" stroke-width="1.4" />
<line x1="38.4" y1="382.25" x2="35.5" y2="382.25" stroke="#000" stroke-width="1.4" />
<line x1="38.4" y1="364.25" x2="35.5" y2="364.25" stroke="#000" stroke-width="1.4" />
<line x1="38.4" y1="346.26" x2="35.5" y2="346.26" stroke="#000" stroke-width="1.4" />
<line x1="38.4" y1="328.27" x2="35.5" y2="328.27" stroke="#000" stroke-width="1.4" />
<line x1="38.4" y1="310.28" x2="35.5" y2="310.28" stroke="#000" stroke-width="1.4" />
<line x1="38.4" y1="292.29" x2="35.5" y2="292.29" stroke="#000" stroke-width="1.4" />
<line x1="34.3" y1="463.2" x2="293.9" y2="463.2" stroke="#000" stroke-width="1.4" />
<line x1="293.9" y1="292.6" x2="293.9" y2="463.9" stroke="#2a3189" stroke-width="1.4" />
<line x1="293.9" y1="463.2" x2="298.2" y2="463.2" stroke="#2a3189" stroke-width="1.4" />
<text x="301.9" y="466.6" font-family="&quot;Liberation Serif&quot;,serif" font-size="14.3" text-anchor="start" font-weight="normal" fill="#2a3189" >0</text>
<line x1="293.9" y1="432.16" x2="298.2" y2="432.16" stroke="#2a3189" stroke-width="1.4" />
<text x="301.9" y="435.56" font-family="&quot;Liberation Serif&quot;,serif" font-size="14.3" text-anchor="start" font-weight="normal" fill="#2a3189" >0.2</text>
<line x1="293.9" y1="401.12" x2="298.2" y2="401.12" stroke="#2a3189" stroke-width="1.4" />
<text x="301.9" y="404.52" font-family="&quot;Liberation Serif&quot;,serif" font-size="14.3" text-anchor="start" font-weight="normal" fill="#2a3189" >0.4</text>
<line x1="293.9" y1="370.08" x2="298.2" y2="370.08" stroke="#2a3189" stroke-width="1.4" />
<text x="301.9" y="373.48" font-family="&quot;Liberation Serif&quot;,serif" font-size="14.3" text-anchor="start" font-weight="normal" fill="#2a3189" >0.6</text>
<line x1="293.9" y1="339.04" x2="298.2" y2="339.04" stroke="#2a3189" stroke-width="1.4" />
<text x="301.9" y="342.44" font-family="&quot;Liberation Serif&quot;,serif" font-size="14.3" text-anchor="start" font-weight="normal" fill="#2a3189" >0.8</text>
<line x1="293.9" y1="308" x2="298.2" y2="308" stroke="#2a3189" stroke-width="1.4" />
<text x="301.9" y="311.4" font-family="&quot;Liberation Serif&quot;,serif" font-size="14.3" text-anchor="start" font-weight="normal" fill="#2a3189" >1.0</text>
<line x1="293.9" y1="447.68" x2="296.6" y2="447.68" stroke="#2a3189" stroke-width="1.4" />
<line x1="293.9" y1="416.64" x2="296.6" y2="416.64" stroke="#2a3189" stroke-width="1.4" />
<line x1="293.9" y1="385.6" x2="296.6" y2="385.6" stroke="#2a3189" stroke-width="1.4" />
<line x1="293.9" y1="354.56" x2="296.6" y2="354.56" stroke="#2a3189" stroke-width="1.4" />
<line x1="293.9" y1="323.52" x2="296.6" y2="323.52" stroke="#2a3189" stroke-width="1.4" />
<line x1="293.9" y1="292.48" x2="296.6" y2="292.48" stroke="#2a3189" stroke-width="1.4" />
<text x="13.3" y="379.2" font-family="&quot;Liberation Serif&quot;,serif" font-size="16.1" text-anchor="middle" font-weight="normal" fill="#000" transform="rotate(-90 13.3 379.2)" textLength="87.39" lengthAdjust="spacingAndGlyphs" >fold induction</text>
<text x="333.5" y="379.8" font-family="&quot;Liberation Serif&quot;,serif" font-size="15" text-anchor="middle" font-weight="normal" fill="#2a3189" transform="rotate(-90 333.5 379.8)" textLength="136.5" lengthAdjust="spacingAndGlyphs" >rel. protein level [a.u.]</text>
<text x="45.2" y="309" font-family="&quot;Liberation Serif&quot;,serif" font-size="17" text-anchor="start" font-weight="normal" fill="#000" textLength="90.9" lengthAdjust="spacingAndGlyphs" >p21 - Saos2</text>
<line x1="50.9" y1="463.2" x2="50.9" y2="468.2" stroke="#000" stroke-width="1.4" />
<rect x="40.6" y="397.29" width="8.5" height="65.91" fill="#fff" stroke="#000" stroke-width="1.3" />
<rect x="53.2" y="455.64" width="8.5" height="7.56" fill="#fff" stroke="#000" stroke-width="1.3" />
<path d="M44.85,389V404M41.65,389H48.05M41.65,404H48.05" stroke="#000" stroke-width="1.3" fill="none"/>
<path d="M42.25,386.9L47.45,392.1M42.25,392.1L47.45,386.9" stroke="#000" stroke-width="1.1" fill="none"/>
<path d="M38.25,398.8L43.45,404M38.25,404L43.45,398.8" stroke="#000" stroke-width="1.1" fill="none"/>
<path d="M42.25,398.2L47.45,403.4M42.25,403.4L47.45,398.2" stroke="#000" stroke-width="1.1" fill="none"/>
<path d="M57.45,451.1V460M54.25,451.1H60.65M54.25,460H60.65" stroke="#000" stroke-width="1.3" fill="none"/>
<circle cx="57.45" cy="447.6" r="2.5" fill="#000"/>
<circle cx="57.45" cy="457.5" r="2.5" fill="#000"/>
<circle cx="54.65" cy="462.8" r="2.5" fill="#000"/>
<line x1="76.4" y1="463.2" x2="76.4" y2="468.2" stroke="#000" stroke-width="1.4" />
<rect x="66.1" y="367.21" width="8.5" height="95.99" fill="#fff" stroke="#000" stroke-width="1.3" />
<rect x="78.7" y="440.6" width="8.5" height="22.6" fill="#2a3189" stroke="#000" stroke-width="1.3" />
<path d="M70.35,351.1V383M67.15,351.1H73.55M67.15,383H73.55" stroke="#000" stroke-width="1.3" fill="none"/>
<path d="M67.75,348.1L72.95,353.3M67.75,353.3L72.95,348.1" stroke="#000" stroke-width="1.1" fill="none"/>
<path d="M67.75,368L72.95,373.2M67.75,373.2L72.95,368" stroke="#000" stroke-width="1.1" fill="none"/>
<path d="M63.75,378.5L68.95,383.7M63.75,383.7L68.95,378.5" stroke="#000" stroke-width="1.1" fill="none"/>
<path d="M82.95,437V446M79.75,437H86.15M79.75,446H86.15" stroke="#000" stroke-width="1.3" fill="none"/>
<circle cx="83.05" cy="432.8" r="2.5" fill="#000"/>
<circle cx="80.35" cy="446.8" r="2.5" fill="#000"/>
<circle cx="83.85" cy="443.4" r="2.5" fill="#000"/>
<line x1="101.9" y1="463.2" x2="101.9" y2="468.2" stroke="#000" stroke-width="1.4" />
<rect x="91.6" y="345.38" width="8.5" height="117.82" fill="#fff" stroke="#000" stroke-width="1.3" />
<rect x="104.2" y="424.85" width="8.5" height="38.35" fill="#2a3189" stroke="#000" stroke-width="1.3" />
<path d="M95.85,338.4V352M92.65,338.4H99.05M92.65,352H99.05" stroke="#000" stroke-width="1.3" fill="none"/>
<path d="M93.25,335.8L98.45,341M93.25,341L98.45,335.8" stroke="#000" stroke-width="1.1" fill="none"/>
<path d="M93.25,342.4L98.45,347.6M93.25,347.6L98.45,342.4" stroke="#000" stroke-width="1.1" fill="none"/>
<path d="M88.95,351L94.15,356.2M88.95,356.2L94.15,351" stroke="#000" stroke-width="1.1" fill="none"/>
<path d="M108.45,417V434M105.25,417H111.65M105.25,434H111.65" stroke="#000" stroke-width="1.3" fill="none"/>
<circle cx="108.45" cy="409.2" r="2.5" fill="#000"/>
<circle cx="108.45" cy="432.8" r="2.5" fill="#000"/>
<circle cx="108.45" cy="439.4" r="2.5" fill="#000"/>
<line x1="127.4" y1="463.2" x2="127.4" y2="468.2" stroke="#000" stroke-width="1.4" />
<rect x="117.1" y="337.86" width="8.5" height="125.34" fill="#fff" stroke="#000" stroke-width="1.3" />
<rect x="129.7" y="364.35" width="8.5" height="98.85" fill="#2a3189" stroke="#000" stroke-width="1.3" />
<path d="M121.35,325.1V350.7M118.15,325.1H124.55M118.15,350.7H124.55" stroke="#000" stroke-width="1.3" fill="none"/>
<path d="M114.45,327.2L119.65,332.4M114.45,332.4L119.65,327.2" stroke="#000" stroke-width="1.1" fill="none"/>
<path d="M123.15,328.8L128.35,334M123.15,334L128.35,328.8" stroke="#000" stroke-width="1.1" fill="none"/>
<path d="M118.75,351L123.95,356.2M118.75,356.2L123.95,351" stroke="#000" stroke-width="1.1" fill="none"/>
<path d="M133.95,347.9V381.1M130.75,347.9H137.15M130.75,381.1H137.15" stroke="#000" stroke-width="1.3" fill="none"/>
<circle cx="130.15" cy="347.3" r="2.5" fill="#000"/>
<circle cx="136.25" cy="347.9" r="2.5" fill="#000"/>
<circle cx="133.35" cy="398.2" r="2.5" fill="#000"/>
<line x1="152.9" y1="463.2" x2="152.9" y2="468.2" stroke="#000" stroke-width="1.4" />
<rect x="142.6" y="349.31" width="8.5" height="113.89" fill="#fff" stroke="#000" stroke-width="1.3" />
<rect x="155.2" y="307.43" width="8.5" height="155.77" fill="#2a3189" stroke="#000" stroke-width="1.3" />
<path d="M146.85,337.4V360M143.65,337.4H150.05M143.65,360H150.05" stroke="#000" stroke-width="1.3" fill="none"/>
<path d="M144.25,334.8L149.45,340M144.25,340L149.45,334.8" stroke="#000" stroke-width="1.1" fill="none"/>
<path d="M140.45,354.8L145.65,360M140.45,360L145.65,354.8" stroke="#000" stroke-width="1.1" fill="none"/>
<path d="M144.65,350L149.85,355.2M144.65,355.2L149.85,350" stroke="#000" stroke-width="1.1" fill="none"/>
<circle cx="156.45" cy="307.8" r="2.5" fill="#000"/>
<circle cx="159.45" cy="307.8" r="2.5" fill="#000"/>
<circle cx="162.45" cy="307.8" r="2.5" fill="#000"/>
<line x1="178.4" y1="463.2" x2="178.4" y2="468.2" stroke="#000" stroke-width="1.4" />
<rect x="168.1" y="435.59" width="8.5" height="27.61" fill="#fff" stroke="#000" stroke-width="1.3" />
<rect x="180.7" y="461.73" width="8.5" height="1.47" fill="#2a3189" stroke="#000" stroke-width="1.3" />
<path d="M172.35,425V446M169.15,425H175.55M169.15,446H175.55" stroke="#000" stroke-width="1.3" fill="none"/>
<path d="M169.75,422.4L174.95,427.6M169.75,427.6L174.95,422.4" stroke="#000" stroke-width="1.1" fill="none"/>
<path d="M165.85,443.4L171.05,448.6M165.85,448.6L171.05,443.4" stroke="#000" stroke-width="1.1" fill="none"/>
<path d="M169.75,435.4L174.95,440.6M169.75,440.6L174.95,435.4" stroke="#000" stroke-width="1.1" fill="none"/>
<circle cx="182.15" cy="458.3" r="2.5" fill="#000"/>
<circle cx="185.55" cy="462.5" r="2.5" fill="#000"/>
<circle cx="188.15" cy="462.8" r="2.5" fill="#000"/>
<line x1="203.9" y1="463.2" x2="203.9" y2="468.2" stroke="#000" stroke-width="1.4" />
<rect x="193.6" y="418.05" width="8.5" height="45.15" fill="#fff" stroke="#000" stroke-width="1.3" />
<rect x="206.2" y="453.13" width="8.5" height="10.07" fill="#2a3189" stroke="#000" stroke-width="1.3" />
<path d="M197.85,416V423M194.65,416H201.05M194.65,423H201.05" stroke="#000" stroke-width="1.3" fill="none"/>
<path d="M192.25,414.4L197.45,419.6M192.25,419.6L197.45,414.4" stroke="#000" stroke-width="1.1" fill="none"/>
<path d="M197.45,415.3L202.65,420.5M197.45,420.5L202.65,415.3" stroke="#000" stroke-width="1.1" fill="none"/>
<path d="M194.85,419.7L200.05,424.9M194.85,424.9L200.05,419.7" stroke="#000" stroke-width="1.1" fill="none"/>
<path d="M210.45,445.2V458M207.25,445.2H213.65M207.25,458H213.65" stroke="#000" stroke-width="1.3" fill="none"/>
<circle cx="210.45" cy="438.1" r="2.5" fill="#000"/>
<circle cx="208.55" cy="461" r="2.5" fill="#000"/>
<circle cx="211.15" cy="461.7" r="2.5" fill="#000"/>
<line x1="229.4" y1="463.2" x2="229.4" y2="468.2" stroke="#000" stroke-width="1.4" />
<rect x="219.1" y="396.21" width="8.5" height="66.99" fill="#fff" stroke="#000" stroke-width="1.3" />
<rect x="231.7" y="451.7" width="8.5" height="11.5" fill="#2a3189" stroke="#000" stroke-width="1.3" />
<path d="M223.35,379V413M220.15,379H226.55M220.15,413H226.55" stroke="#000" stroke-width="1.3" fill="none"/>
<path d="M216.25,380.4L221.45,385.6M216.25,385.6L221.45,380.4" stroke="#000" stroke-width="1.1" fill="none"/>
<path d="M224.15,388.8L229.35,394M224.15,394L229.35,388.8" stroke="#000" stroke-width="1.1" fill="none"/>
<path d="M220.15,413.2L225.35,418.4M220.15,418.4L225.35,413.2" stroke="#000" stroke-width="1.1" fill="none"/>
<path d="M235.95,445V458M232.75,445H239.15M232.75,458H239.15" stroke="#000" stroke-width="1.3" fill="none"/>
<circle cx="236.75" cy="440" r="2.5" fill="#000"/>
<circle cx="234.15" cy="459.1" r="2.5" fill="#000"/>
<circle cx="236.75" cy="456.5" r="2.5" fill="#000"/>
<line x1="254.9" y1="463.2" x2="254.9" y2="468.2" stroke="#000" stroke-width="1.4" />
<rect x="244.6" y="360.77" width="8.5" height="102.43" fill="#fff" stroke="#000" stroke-width="1.3" />
<rect x="257.2" y="441.32" width="8.5" height="21.88" fill="#2a3189" stroke="#000" stroke-width="1.3" />
<path d="M248.85,341.5V380M245.65,341.5H252.05M245.65,380H252.05" stroke="#000" stroke-width="1.3" fill="none"/>
<path d="M242.25,346.7L247.45,351.9M242.25,351.9L247.45,346.7" stroke="#000" stroke-width="1.1" fill="none"/>
<path d="M250.15,348.1L255.35,353.3M250.15,353.3L255.35,348.1" stroke="#000" stroke-width="1.1" fill="none"/>
<path d="M245.65,380.9L250.85,386.1M245.65,386.1L250.85,380.9" stroke="#000" stroke-width="1.1" fill="none"/>
<path d="M261.45,433V449M258.25,433H264.65M258.25,449H264.65" stroke="#000" stroke-width="1.3" fill="none"/>
<circle cx="262.35" cy="425" r="2.5" fill="#000"/>
<circle cx="259.15" cy="452" r="2.5" fill="#000"/>
<circle cx="261.75" cy="447.3" r="2.5" fill="#000"/>
<line x1="280.4" y1="463.2" x2="280.4" y2="468.2" stroke="#000" stroke-width="1.4" />
<rect x="270.1" y="355.04" width="8.5" height="108.16" fill="#fff" stroke="#000" stroke-width="1.3" />
<rect x="282.7" y="426.28" width="8.5" height="36.92" fill="#2a3189" stroke="#000" stroke-width="1.3" />
<path d="M274.35,322V388.2M271.15,322H277.55M271.15,388.2H277.55" stroke="#000" stroke-width="1.3" fill="none"/>
<path d="M271.75,327.3L276.95,332.5M271.75,332.5L276.95,327.3" stroke="#000" stroke-width="1.1" fill="none"/>
<path d="M271.75,340.4L276.95,345.6M271.75,345.6L276.95,340.4" stroke="#000" stroke-width="1.1" fill="none"/>
<path d="M271.75,389.6L276.95,394.8M271.75,394.8L276.95,389.6" stroke="#000" stroke-width="1.1" fill="none"/>
<path d="M286.95,412.3V442M283.75,412.3H290.15M283.75,442H290.15" stroke="#000" stroke-width="1.3" fill="none"/>
<circle cx="284.35" cy="442" r="2.5" fill="#000"/>
<circle cx="286.95" cy="440" r="2.5" fill="#000"/>
<circle cx="285.65" cy="398" r="2.5" fill="#000"/>
<polygon points="50.9,488.9 153.1,472.5 153.1,488.9" fill="#fff" stroke="#000" stroke-width="1.5" stroke-linejoin="miter"/>
<text x="100.3" y="505.2" font-family="&quot;Liberation Serif&quot;,serif" font-size="16" text-anchor="start" font-weight="normal" fill="#000" textLength="52.4" lengthAdjust="spacingAndGlyphs" >TAp63γ</text>
<polygon points="178.4,488.9 280.4,472.5 280.4,488.9" fill="#fff" stroke="#000" stroke-width="1.5" stroke-linejoin="miter"/>
<text x="215.8" y="505.2" font-family="&quot;Liberation Serif&quot;,serif" font-size="16" text-anchor="start" font-weight="normal" fill="#000" textLength="63" lengthAdjust="spacingAndGlyphs" >GTAp63γ</text>
<defs>
<filter id="bl1" x="-50%" y="-100%" width="200%" height="300%"><feGaussianBlur stdDeviation="0.9 0.8"/></filter>
<filter id="bl2" x="-50%" y="-50%" width="200%" height="200%"><feGaussianBlur stdDeviation="1.2 2"/></filter>
<filter id="bl3" x="-50%" y="-50%" width="200%" height="200%"><feGaussianBlur stdDeviation="2 1.5"/></filter>
<clipPath id="cpd1"><rect x="419.4" y="317.9" width="182.2" height="34.2"/></clipPath>
<clipPath id="cpd2"><rect x="419.4" y="364" width="182.2" height="33.4"/></clipPath>
<clipPath id="cpd3"><rect x="419.4" y="441.5" width="182.2" height="34.3"/></clipPath>
<clipPath id="cpd4"><rect x="419.4" y="481.3" width="182.2" height="33.9"/></clipPath>
</defs>
<text x="361.5" y="292.3" font-family="&quot;Liberation Serif&quot;,serif" font-size="21" text-anchor="start" font-weight="bold" fill="#000" >d</text>
<rect x="419.4" y="317.9" width="182.2" height="34.2" fill="#e8e8e8" stroke="#000" stroke-width="0" />
<rect x="510.5" y="317.9" width="91.1" height="34.2" fill="#ededed" stroke="#000" stroke-width="0" />
<g clip-path="url(#cpd1)">
<rect x="423.5" y="319" width="11" height="17.5" fill="#f1f1f1" filter="url(#bl3)"/>
<path d="M422.5,339.8L422.5,336.5Q429,337.1 435.5,336.5L435.5,339.8Q429,339.69 422.5,339.8Z" fill="#cfcfcf" filter="url(#bl1)"/>
<rect x="441.5" y="319" width="10.5" height="16.5" fill="#f1f1f1" filter="url(#bl3)"/>
<path d="M440.5,339.8L440.5,335.5Q446.75,337.1 453,335.5L453,339.8Q446.75,339.52 440.5,339.8Z" fill="#6c6c6c" filter="url(#bl1)"/>
<rect x="458.7" y="319" width="10.1" height="16.2" fill="#f1f1f1" filter="url(#bl3)"/>
<path d="M458.9,336.2L459.5,321M468.6,336.2L468,321" stroke="#bdbdbd" stroke-width="1.8" fill="none" filter="url(#bl2)"/>
<path d="M457.7,340.6L457.7,335.2Q463.75,337.2 469.8,335.2L469.8,340.6Q463.75,340.25 457.7,340.6Z" fill="#080808" filter="url(#bl1)"/>
<rect x="475.8" y="319" width="12.1" height="13.2" fill="#f1f1f1" filter="url(#bl3)"/>
<path d="M476,333.2L476.6,320M487.7,333.2L487.1,320" stroke="#a8a8a8" stroke-width="1.8" fill="none" filter="url(#bl2)"/>
<path d="M474.8,341.6L474.8,332.2Q481.85,336.6 488.9,332.2L488.9,341.6Q481.85,340.83 474.8,341.6Z" fill="#000" filter="url(#bl1)"/>
<rect x="493.7" y="319" width="13.3" height="11" fill="#f1f1f1" filter="url(#bl3)"/>
<path d="M493.9,331L494.5,320M506.8,331L506.2,320" stroke="#999" stroke-width="1.8" fill="none" filter="url(#bl2)"/>
<path d="M492.7,342L492.7,330Q500.35,335.6 508,330L508,342Q500.35,341.02 492.7,342Z" fill="#000" filter="url(#bl1)"/>
<rect x="515" y="319" width="9" height="17.5" fill="#f1f1f1" filter="url(#bl3)"/>
<path d="M514,339.5L514,336.5Q519.5,336.9 525,336.5L525,339.5Q519.5,339.43 514,339.5Z" fill="#dedede" filter="url(#bl1)"/>
<rect x="533" y="319" width="10.4" height="17" fill="#f1f1f1" filter="url(#bl3)"/>
<path d="M532,339.8L532,336Q538.2,336.8 544.4,336L544.4,339.8Q538.2,339.66 532,339.8Z" fill="#c4c4c4" filter="url(#bl1)"/>
<rect x="551.2" y="319" width="10.5" height="16.5" fill="#f1f1f1" filter="url(#bl3)"/>
<path d="M550.2,340L550.2,335.5Q556.45,336.7 562.7,335.5L562.7,340Q556.45,339.79 550.2,340Z" fill="#9c9c9c" filter="url(#bl1)"/>
<rect x="568.8" y="319" width="9.7" height="16.5" fill="#f1f1f1" filter="url(#bl3)"/>
<path d="M569,336.5L569.6,323M578.3,336.5L577.7,323" stroke="#d0d0d0" stroke-width="1.8" fill="none" filter="url(#bl2)"/>
<path d="M567.8,340L567.8,335.5Q573.65,336.7 579.5,335.5L579.5,340Q573.65,339.79 567.8,340Z" fill="#8a8a8a" filter="url(#bl1)"/>
<rect x="586" y="319" width="11.4" height="15.5" fill="#f1f1f1" filter="url(#bl3)"/>
<path d="M586.2,335.5L586.8,321M597.2,335.5L596.6,321" stroke="#bbb" stroke-width="1.8" fill="none" filter="url(#bl2)"/>
<path d="M585,340.5L585,334.5Q591.7,336.5 598.4,334.5L598.4,340.5Q591.7,340.15 585,340.5Z" fill="#2e2e2e" filter="url(#bl1)"/>
</g>
<rect x="419.4" y="317.9" width="182.2" height="34.2" fill="none" stroke="#000" stroke-width="1.5" />
<line x1="510.5" y1="317.9" x2="510.5" y2="352.1" stroke="#000" stroke-width="1.3" />
<rect x="419.4" y="364" width="182.2" height="33.4" fill="#e0e0e0" stroke="#000" stroke-width="0" />
<rect x="510.5" y="364" width="91.1" height="33.4" fill="#e3e3e3" stroke="#000" stroke-width="0" />
<g clip-path="url(#cpd2)">
<path d="M421.3,383.4L421.3,377Q429.15,378 437,377L437,383.4Q429.15,383.22 421.3,383.4Z" fill="#000" filter="url(#bl1)"/>
<path d="M441.1,383L441.1,376.6Q447.9,377.6 454.7,376.6L454.7,383Q447.9,382.82 441.1,383Z" fill="#000" filter="url(#bl1)"/>
<path d="M458.7,382.2L458.7,376.2Q465.5,377.2 472.3,376.2L472.3,382.2Q465.5,382.02 458.7,382.2Z" fill="#000" filter="url(#bl1)"/>
<path d="M477.7,381.8L477.7,376.6Q483.85,377.6 490,376.6L490,381.8Q483.85,381.62 477.7,381.8Z" fill="#080808" filter="url(#bl1)"/>
<path d="M495.4,381.4L495.4,377Q501.5,378.2 507.6,377L507.6,381.4Q501.5,381.19 495.4,381.4Z" fill="#262626" filter="url(#bl1)"/>
<path d="M514.4,381.6L514.4,377.6Q520.5,378.4 526.6,377.6L526.6,381.6Q520.5,381.46 514.4,381.6Z" fill="#202020" filter="url(#bl1)"/>
<path d="M534.2,381.8L534.2,378.4Q539.9,379 545.6,378.4L545.6,381.8Q539.9,381.69 534.2,381.8Z" fill="#5a5a5a" filter="url(#bl1)"/>
<path d="M551,381.8L551,377.2Q557.15,378 563.3,377.2L563.3,381.8Q557.15,381.66 551,381.8Z" fill="#1a1a1a" filter="url(#bl1)"/>
<path d="M568.7,382.4L568.7,376.4Q574.8,377.6 580.9,376.4L580.9,382.4Q574.8,382.19 568.7,382.4Z" fill="#000" filter="url(#bl1)"/>
<path d="M586.3,382.6L586.3,376.2Q592.85,377.4 599.4,376.2L599.4,382.6Q592.85,382.39 586.3,382.6Z" fill="#000" filter="url(#bl1)"/>
</g>
<rect x="419.4" y="364" width="182.2" height="33.4" fill="none" stroke="#000" stroke-width="1.5" />
<line x1="510.5" y1="364" x2="510.5" y2="397.4" stroke="#000" stroke-width="1.3" />
<polygon points="424.2,315.2 507.6,300.5 507.6,315.2" fill="#fff" stroke="#000" stroke-width="1.5" stroke-linejoin="miter"/>
<polygon points="515.1,315.2 599.4,300.5 599.4,315.2" fill="#fff" stroke="#000" stroke-width="1.5" stroke-linejoin="miter"/>
<text x="424.8" y="303.4" font-family="&quot;Liberation Serif&quot;,serif" font-size="13.5" text-anchor="start" font-weight="normal" fill="#000" textLength="43.3" lengthAdjust="spacingAndGlyphs" >TAp63γ</text>
<text x="513.6" y="304.2" font-family="&quot;Liberation Serif&quot;,serif" font-size="13.5" text-anchor="start" font-weight="normal" fill="#000" textLength="54.5" lengthAdjust="spacingAndGlyphs" >GTAp63γ</text>
<text x="392" y="309.7" font-family="&quot;Liberation Serif&quot;,serif" font-size="13" text-anchor="start" font-weight="normal" fill="#000" textLength="20.7" lengthAdjust="spacingAndGlyphs" >kDa</text>
<line x1="412.6" y1="317.9" x2="419.4" y2="317.9" stroke="#000" stroke-width="1.4" />
<text x="412.2" y="322.1" font-family="&quot;Liberation Serif&quot;,serif" font-size="12.8" text-anchor="end" font-weight="normal" fill="#000" >75</text>
<line x1="412.6" y1="348.1" x2="419.4" y2="348.1" stroke="#000" stroke-width="1.4" />
<text x="412.2" y="352.3" font-family="&quot;Liberation Serif&quot;,serif" font-size="12.8" text-anchor="end" font-weight="normal" fill="#000" >50</text>
<line x1="412.6" y1="371.3" x2="419.4" y2="371.3" stroke="#000" stroke-width="1.4" />
<text x="412.2" y="375.5" font-family="&quot;Liberation Serif&quot;,serif" font-size="12.8" text-anchor="end" font-weight="normal" fill="#000" >37</text>
<text x="370.4" y="353.7" font-family="&quot;Liberation Serif&quot;,serif" font-size="15" text-anchor="middle" font-weight="normal" fill="#000" transform="rotate(90 370.4 353.7)" textLength="65.5" lengthAdjust="spacingAndGlyphs" >SDS-PAGE</text>
<line x1="387.6" y1="317.9" x2="387.6" y2="389.9" stroke="#000" stroke-width="1.4" />
<text x="605.2" y="338.9" font-family="&quot;Liberation Serif&quot;,serif" font-size="13.3" text-anchor="start" font-weight="normal" fill="#000" textLength="26.6" lengthAdjust="spacingAndGlyphs" >αp63</text>
<text x="605.2" y="384.4" font-family="&quot;Liberation Serif&quot;,serif" font-size="13.3" text-anchor="start" font-weight="normal" fill="#000" textLength="54.2" lengthAdjust="spacingAndGlyphs" >αGAPDH</text>
<rect x="419.4" y="441.5" width="182.2" height="34.3" fill="#e4e4e4" stroke="#000" stroke-width="0" />
<rect x="510.5" y="441.5" width="91.1" height="34.3" fill="#ebebeb" stroke="#000" stroke-width="0" />
<g clip-path="url(#cpd3)">
<rect x="424.4" y="443" width="8.9" height="15.2" fill="#f1f1f1" filter="url(#bl3)"/>
<path d="M423.4,461.2L423.4,458.2Q428.85,458.8 434.3,458.2L434.3,461.2Q428.85,461.09 423.4,461.2Z" fill="#c6c6c6" filter="url(#bl1)"/>
<rect x="440.7" y="443" width="11.6" height="14.5" fill="#f1f1f1" filter="url(#bl3)"/>
<path d="M439.7,462L439.7,457.5Q446.5,459.1 453.3,457.5L453.3,462Q446.5,461.72 439.7,462Z" fill="#555" filter="url(#bl1)"/>
<rect x="458.4" y="443" width="11.6" height="14.4" fill="#f1f1f1" filter="url(#bl3)"/>
<path d="M458.6,458.4L459.2,446M469.8,458.4L469.2,446" stroke="#c4c4c4" stroke-width="1.8" fill="none" filter="url(#bl2)"/>
<path d="M457.4,461.8L457.4,457.4Q464.2,459 471,457.4L471,461.8Q464.2,461.52 457.4,461.8Z" fill="#111" filter="url(#bl1)"/>
<rect x="475.3" y="443" width="13" height="11.3" fill="#f1f1f1" filter="url(#bl3)"/>
<path d="M475.5,455.3L476.1,444M488.1,455.3L487.5,444" stroke="#aaa" stroke-width="1.8" fill="none" filter="url(#bl2)"/>
<path d="M474.3,463.5L474.3,454.3Q481.8,458.7 489.3,454.3L489.3,463.5Q481.8,462.73 474.3,463.5Z" fill="#000" filter="url(#bl1)"/>
<rect x="493.5" y="443" width="13.8" height="10.3" fill="#f1f1f1" filter="url(#bl3)"/>
<path d="M493.7,454.3L494.3,444M507.1,454.3L506.5,444" stroke="#9c9c9c" stroke-width="1.8" fill="none" filter="url(#bl2)"/>
<path d="M492.5,463.7L492.5,453.3Q500.4,458.9 508.3,453.3L508.3,463.7Q500.4,462.72 492.5,463.7Z" fill="#000" filter="url(#bl1)"/>
<rect x="515.5" y="443" width="9" height="15.5" fill="#f1f1f1" filter="url(#bl3)"/>
<path d="M514.5,461.5L514.5,458.5Q520,458.9 525.5,458.5L525.5,461.5Q520,461.43 514.5,461.5Z" fill="#e0e0e0" filter="url(#bl1)"/>
<rect x="534.5" y="443" width="10.5" height="15.5" fill="#f1f1f1" filter="url(#bl3)"/>
<path d="M533.5,461.5L533.5,458.5Q539.75,459.1 546,458.5L546,461.5Q539.75,461.39 533.5,461.5Z" fill="#d6d6d6" filter="url(#bl1)"/>
<rect x="552" y="443" width="11" height="15" fill="#f1f1f1" filter="url(#bl3)"/>
<path d="M551,461.8L551,458Q557.5,458.8 564,458L564,461.8Q557.5,461.66 551,461.8Z" fill="#cacaca" filter="url(#bl1)"/>
<rect x="569" y="443" width="12" height="14.5" fill="#f1f1f1" filter="url(#bl3)"/>
<path d="M569.2,458.5L569.8,447M580.8,458.5L580.2,447" stroke="#d4d4d4" stroke-width="1.8" fill="none" filter="url(#bl2)"/>
<path d="M568,462L568,457.5Q575,458.7 582,457.5L582,462Q575,461.79 568,462Z" fill="#b4b4b4" filter="url(#bl1)"/>
<rect x="587" y="443" width="11" height="13.5" fill="#f1f1f1" filter="url(#bl3)"/>
<path d="M587.2,457.5L587.8,446M597.8,457.5L597.2,446" stroke="#c8c8c8" stroke-width="1.8" fill="none" filter="url(#bl2)"/>
<path d="M586,462.6L586,456.5Q592.5,458.1 599,456.5L599,462.6Q592.5,462.32 586,462.6Z" fill="#7a7a7a" filter="url(#bl1)"/>
</g>
<rect x="419.4" y="441.5" width="182.2" height="34.3" fill="none" stroke="#000" stroke-width="1.5" />
<line x1="510.5" y1="441.5" x2="510.5" y2="475.8" stroke="#000" stroke-width="1.3" />
<rect x="419.4" y="481.3" width="182.2" height="33.9" fill="#ececec" stroke="#000" stroke-width="0" />
<rect x="510.5" y="481.3" width="91.1" height="33.9" fill="#efefef" stroke="#000" stroke-width="0" />
<g clip-path="url(#cpd4)">
<path d="M422.9,502.3L422.9,496.3Q429.7,497.3 436.5,496.3L436.5,502.3Q429.7,502.12 422.9,502.3Z" fill="#000" filter="url(#bl1)"/>
<path d="M440.3,502.5L440.3,497Q446.8,498 453.3,497L453.3,502.5Q446.8,502.32 440.3,502.5Z" fill="#000" filter="url(#bl1)"/>
<path d="M458.2,503L458.2,497.5Q464.6,498.5 471,497.5L471,503Q464.6,502.82 458.2,503Z" fill="#000" filter="url(#bl1)"/>
<path d="M476.4,502L476.4,497Q482.2,498 488,497L488,502Q482.2,501.82 476.4,502Z" fill="#050505" filter="url(#bl1)"/>
<path d="M495.4,501.2L495.4,497.2Q501.5,498.2 507.6,497.2L507.6,501.2Q501.5,501.02 495.4,501.2Z" fill="#1e1e1e" filter="url(#bl1)"/>
<path d="M514.4,500L514.4,496.4Q519.8,497.2 525.2,496.4L525.2,500Q519.8,499.86 514.4,500Z" fill="#4a4a4a" filter="url(#bl1)"/>
<path d="M532,501L532,496.6Q538.15,497.6 544.3,496.6L544.3,501Q538.15,500.82 532,501Z" fill="#0e0e0e" filter="url(#bl1)"/>
<path d="M549.7,501.2L549.7,496.6Q555.8,497.6 561.9,496.6L561.9,501.2Q555.8,501.02 549.7,501.2Z" fill="#000" filter="url(#bl1)"/>
<path d="M566.8,501.2L566.8,496.2Q573.2,497.2 579.6,496.2L579.6,501.2Q573.2,501.02 566.8,501.2Z" fill="#000" filter="url(#bl1)"/>
<path d="M584.2,500.4L584.2,496.6Q590,497.4 595.8,496.6L595.8,500.4Q590,500.26 584.2,500.4Z" fill="#1a1a1a" filter="url(#bl1)"/>
</g>
<rect x="419.4" y="481.3" width="182.2" height="33.9" fill="none" stroke="#000" stroke-width="1.5" />
<line x1="510.5" y1="481.3" x2="510.5" y2="515.2" stroke="#000" stroke-width="1.3" />
<polygon points="424.2,438.6 507.6,424.2 507.6,438.6" fill="#fff" stroke="#000" stroke-width="1.5" stroke-linejoin="miter"/>
<polygon points="515.1,438.6 599.4,424.2 599.4,438.6" fill="#fff" stroke="#000" stroke-width="1.5" stroke-linejoin="miter"/>
<text x="424.8" y="427.1" font-family="&quot;Liberation Serif&quot;,serif" font-size="13.5" text-anchor="start" font-weight="normal" fill="#000" textLength="43.3" lengthAdjust="spacingAndGlyphs" >TAp63γ</text>
<text x="513.6" y="427.9" font-family="&quot;Liberation Serif&quot;,serif" font-size="13.5" text-anchor="start" font-weight="normal" fill="#000" textLength="51.5" lengthAdjust="spacingAndGlyphs" >TA*p63γ</text>
<text x="392" y="434.7" font-family="&quot;Liberation Serif&quot;,serif" font-size="13" text-anchor="start" font-weight="normal" fill="#000" textLength="20.7" lengthAdjust="spacingAndGlyphs" >kDa</text>
<line x1="412.6" y1="441.5" x2="419.4" y2="441.5" stroke="#000" stroke-width="1.4" />
<text x="412.2" y="445.7" font-family="&quot;Liberation Serif&quot;,serif" font-size="12.8" text-anchor="end" font-weight="normal" fill="#000" >75</text>
<line x1="412.6" y1="472.1" x2="419.4" y2="472.1" stroke="#000" stroke-width="1.4" />
<text x="412.2" y="476.3" font-family="&quot;Liberation Serif&quot;,serif" font-size="12.8" text-anchor="end" font-weight="normal" fill="#000" >50</text>
<line x1="412.6" y1="490" x2="419.4" y2="490" stroke="#000" stroke-width="1.4" />
<text x="412.2" y="494.2" font-family="&quot;Liberation Serif&quot;,serif" font-size="12.8" text-anchor="end" font-weight="normal" fill="#000" >37</text>
<text x="370.4" y="478.4" font-family="&quot;Liberation Serif&quot;,serif" font-size="15" text-anchor="middle" font-weight="normal" fill="#000" transform="rotate(90 370.4 478.4)" textLength="65.5" lengthAdjust="spacingAndGlyphs" >SDS-PAGE</text>
<line x1="387.6" y1="442.9" x2="387.6" y2="515.2" stroke="#000" stroke-width="1.4" />
<text x="605.2" y="462.9" font-family="&quot;Liberation Serif&quot;,serif" font-size="13.3" text-anchor="start" font-weight="normal" fill="#000" textLength="26.6" lengthAdjust="spacingAndGlyphs" >αp63</text>
<text x="605.2" y="502.2" font-family="&quot;Liberation Serif&quot;,serif" font-size="13.3" text-anchor="start" font-weight="normal" fill="#000" textLength="54.2" lengthAdjust="spacingAndGlyphs" >αGAPDH</text>
<text x="0.3" y="557.7" font-family="&quot;Liberation Serif&quot;,serif" font-size="22" text-anchor="start" font-weight="bold" fill="#000" >e</text>
<line x1="38.2" y1="556.5" x2="38.2" y2="728.3" stroke="#000" stroke-width="1.4" />
<line x1="38.2" y1="727.6" x2="33.3" y2="727.6" stroke="#000" stroke-width="1.4" />
<text x="31.4" y="730.6" font-family="&quot;Liberation Serif&quot;,serif" font-size="13.3" text-anchor="end" font-weight="normal" fill="#000" >0</text>
<line x1="38.2" y1="709.62" x2="33.3" y2="709.62" stroke="#000" stroke-width="1.4" />
<text x="31.4" y="712.62" font-family="&quot;Liberation Serif&quot;,serif" font-size="13.3" text-anchor="end" font-weight="normal" fill="#000" >5</text>
<line x1="38.2" y1="691.64" x2="33.3" y2="691.64" stroke="#000" stroke-width="1.4" />
<text x="31.4" y="694.64" font-family="&quot;Liberation Serif&quot;,serif" font-size="13.3" text-anchor="end" font-weight="normal" fill="#000" >10</text>
<line x1="38.2" y1="673.66" x2="33.3" y2="673.66" stroke="#000" stroke-width="1.4" />
<text x="31.4" y="676.66" font-family="&quot;Liberation Serif&quot;,serif" font-size="13.3" text-anchor="end" font-weight="normal" fill="#000" >15</text>
<line x1="38.2" y1="655.68" x2="33.3" y2="655.68" stroke="#000" stroke-width="1.4" />
<text x="31.4" y="658.68" font-family="&quot;Liberation Serif&quot;,serif" font-size="13.3" text-anchor="end" font-weight="normal" fill="#000" >20</text>
<line x1="38.2" y1="637.7" x2="33.3" y2="637.7" stroke="#000" stroke-width="1.4" />
<text x="31.4" y="640.7" font-family="&quot;Liberation Serif&quot;,serif" font-size="13.3" text-anchor="end" font-weight="normal" fill="#000" >25</text>
<line x1="38.2" y1="619.72" x2="33.3" y2="619.72" stroke="#000" stroke-width="1.4" />
<text x="31.4" y="622.72" font-family="&quot;Liberation Serif&quot;,serif" font-size="13.3" text-anchor="end" font-weight="normal" fill="#000" >30</text>
<line x1="38.2" y1="601.74" x2="33.3" y2="601.74" stroke="#000" stroke-width="1.4" />
<text x="31.4" y="604.74" font-family="&quot;Liberation Serif&quot;,serif" font-size="13.3" text-anchor="end" font-weight="normal" fill="#000" >35</text>
<line x1="38.2" y1="583.76" x2="33.3" y2="583.76" stroke="#000" stroke-width="1.4" />
<text x="31.4" y="586.76" font-family="&quot;Liberation Serif&quot;,serif" font-size="13.3" text-anchor="end" font-weight="normal" fill="#000" >40</text>
<line x1="38.2" y1="565.78" x2="33.3" y2="565.78" stroke="#000" stroke-width="1.4" />
<text x="31.4" y="568.78" font-family="&quot;Liberation Serif&quot;,serif" font-size="13.3" text-anchor="end" font-weight="normal" fill="#000" >45</text>
<line x1="38.2" y1="718.61" x2="34.9" y2="718.61" stroke="#000" stroke-width="1.4" />
<line x1="38.2" y1="700.63" x2="34.9" y2="700.63" stroke="#000" stroke-width="1.4" />
<line x1="38.2" y1="682.65" x2="34.9" y2="682.65" stroke="#000" stroke-width="1.4" />
<line x1="38.2" y1="664.67" x2="34.9" y2="664.67" stroke="#000" stroke-width="1.4" />
<line x1="38.2" y1="646.69" x2="34.9" y2="646.69" stroke="#000" stroke-width="1.4" />
<line x1="38.2" y1="628.71" x2="34.9" y2="628.71" stroke="#000" stroke-width="1.4" />
<line x1="38.2" y1="610.73" x2="34.9" y2="610.73" stroke="#000" stroke-width="1.4" />
<line x1="38.2" y1="592.75" x2="34.9" y2="592.75" stroke="#000" stroke-width="1.4" />
<line x1="38.2" y1="574.77" x2="34.9" y2="574.77" stroke="#000" stroke-width="1.4" />
<line x1="38.2" y1="556.79" x2="34.9" y2="556.79" stroke="#000" stroke-width="1.4" />
<line x1="33.1" y1="727.6" x2="294.2" y2="727.6" stroke="#000" stroke-width="1.4" />
<text x="12.6" y="641.4" font-family="&quot;Liberation Serif&quot;,serif" font-size="16.1" text-anchor="middle" font-weight="normal" fill="#000" transform="rotate(-90 12.6 641.4)" textLength="87.39" lengthAdjust="spacingAndGlyphs" >fold induction</text>
<text x="42.6" y="573" font-family="&quot;Liberation Serif&quot;,serif" font-size="16.8" text-anchor="start" font-weight="normal" fill="#000" textLength="90.5" lengthAdjust="spacingAndGlyphs" >p21 - Saos2</text>
<rect x="41.3" y="597.2" width="12.3" height="130.4" fill="#fff" stroke="#000" stroke-width="1.4" />
<line x1="47.45" y1="727.6" x2="47.45" y2="732.8" stroke="#000" stroke-width="1.4" />
<text x="51.15" y="734.6" font-family="&quot;Liberation Serif&quot;,serif" font-size="14.6" text-anchor="end" font-weight="normal" fill="#000" transform="rotate(-90 51.15 734.6)" textLength="44.09" lengthAdjust="spacingAndGlyphs" >TAp63γ</text>
<path d="M47.45,581.1V611.2M43.95,581.1H50.95M43.95,611.2H50.95" stroke="#000" stroke-width="1.4" fill="none"/>
<path d="M39.05,584.6L44.65,590.2M39.05,590.2L44.65,584.6" stroke="#000" stroke-width="1.2" fill="none"/>
<path d="M49.65,585.6L55.25,591.2M49.65,591.2L55.25,585.6" stroke="#000" stroke-width="1.2" fill="none"/>
<path d="M44.85,610.9L50.45,616.5M44.85,616.5L50.45,610.9" stroke="#000" stroke-width="1.2" fill="none"/>
<rect x="59.52" y="628" width="12.3" height="99.6" fill="#fff" stroke="#000" stroke-width="1.4" />
<line x1="65.67" y1="727.6" x2="65.67" y2="732.8" stroke="#000" stroke-width="1.4" />
<text x="69.37" y="734.6" font-family="&quot;Liberation Serif&quot;,serif" font-size="14.6" text-anchor="end" font-weight="normal" fill="#000" transform="rotate(-90 69.37 734.6)" textLength="50.99" lengthAdjust="spacingAndGlyphs" >TA*p63γ</text>
<path d="M65.67,618.1V635.6M62.17,618.1H69.17M62.17,635.6H69.17" stroke="#000" stroke-width="1.4" fill="none"/>
<path d="M58.07,619.2L63.67,624.8M58.07,624.8L63.67,619.2" stroke="#000" stroke-width="1.2" fill="none"/>
<path d="M68.27,619.2L73.87,624.8M68.27,624.8L73.87,619.2" stroke="#000" stroke-width="1.2" fill="none"/>
<path d="M62.87,634.7L68.47,640.3M62.87,640.3L68.47,634.7" stroke="#000" stroke-width="1.2" fill="none"/>
<rect x="77.74" y="606.8" width="12.3" height="120.8" fill="#fff" stroke="#000" stroke-width="1.4" />
<line x1="83.89" y1="727.6" x2="83.89" y2="732.8" stroke="#000" stroke-width="1.4" />
<text x="87.59" y="734.6" font-family="&quot;Liberation Serif&quot;,serif" font-size="14.6" text-anchor="end" font-weight="normal" fill="#000" transform="rotate(-90 87.59 734.6)" textLength="54.05" lengthAdjust="spacingAndGlyphs" >GTAp63γ</text>
<path d="M83.89,595.1V617.3M80.39,595.1H87.39M80.39,617.3H87.39" stroke="#000" stroke-width="1.4" fill="none"/>
<path d="M76.29,594.4L81.89,600M76.29,600L81.89,594.4" stroke="#000" stroke-width="1.2" fill="none"/>
<path d="M86.39,599.6L91.99,605.2M86.39,605.2L91.99,599.6" stroke="#000" stroke-width="1.2" fill="none"/>
<path d="M80.99,615L86.59,620.6M80.99,620.6L86.59,615" stroke="#000" stroke-width="1.2" fill="none"/>
<rect x="95.96" y="721.1" width="12.3" height="6.5" fill="#fff" stroke="#000" stroke-width="1.4" />
<line x1="102.11" y1="727.6" x2="102.11" y2="732.8" stroke="#000" stroke-width="1.4" />
<text x="105.81" y="734.6" font-family="&quot;Liberation Serif&quot;,serif" font-size="14.6" text-anchor="end" font-weight="normal" fill="#000" transform="rotate(-90 105.81 734.6)" textLength="76.67" lengthAdjust="spacingAndGlyphs" >TAp63γ FWL</text>
<path d="M102.11,719V722M98.61,719H105.61M98.61,722H105.61" stroke="#000" stroke-width="1.4" fill="none"/>
<path d="M94.31,717.2L99.91,722.8M94.31,722.8L99.91,717.2" stroke="#000" stroke-width="1.2" fill="none"/>
<path d="M99.31,717.7L104.91,723.3M99.31,723.3L104.91,717.7" stroke="#000" stroke-width="1.2" fill="none"/>
<path d="M104.31,717.2L109.91,722.8M104.31,722.8L109.91,717.2" stroke="#000" stroke-width="1.2" fill="none"/>
<rect x="114.18" y="685.3" width="12.3" height="42.3" fill="#fff" stroke="#000" stroke-width="1.4" />
<line x1="120.33" y1="727.6" x2="120.33" y2="732.8" stroke="#000" stroke-width="1.4" />
<text x="124.03" y="734.6" font-family="&quot;Liberation Serif&quot;,serif" font-size="14.6" text-anchor="end" font-weight="normal" fill="#000" transform="rotate(-90 124.03 734.6)" textLength="13.8" lengthAdjust="spacingAndGlyphs" >wt</text>
<path d="M120.33,681.4V686.5M116.83,681.4H123.83M116.83,686.5H123.83" stroke="#000" stroke-width="1.4" fill="none"/>
<path d="M111.83,678.6L117.43,684.2M111.83,684.2L117.43,678.6" stroke="#000" stroke-width="1.2" fill="none"/>
<path d="M117.73,683.2L123.33,688.8M117.73,688.8L123.33,683.2" stroke="#000" stroke-width="1.2" fill="none"/>
<path d="M122.83,682.5L128.43,688.1M122.83,688.1L128.43,682.5" stroke="#000" stroke-width="1.2" fill="none"/>
<rect x="132.4" y="706.9" width="12.3" height="20.7" fill="#fff" stroke="#000" stroke-width="1.4" />
<line x1="138.55" y1="727.6" x2="138.55" y2="732.8" stroke="#000" stroke-width="1.4" />
<text x="142.25" y="734.6" font-family="&quot;Liberation Serif&quot;,serif" font-size="14.6" text-anchor="end" font-weight="normal" fill="#000" transform="rotate(-90 142.25 734.6)" textLength="17.64" lengthAdjust="spacingAndGlyphs" >YF</text>
<path d="M138.55,702.1V710.1M135.05,702.1H142.05M135.05,710.1H142.05" stroke="#000" stroke-width="1.4" fill="none"/>
<path d="M130.35,698.6L135.95,704.2M130.35,704.2L135.95,698.6" stroke="#000" stroke-width="1.2" fill="none"/>
<path d="M135.45,705.4L141.05,711M135.45,711L141.05,705.4" stroke="#000" stroke-width="1.2" fill="none"/>
<path d="M140.55,705.9L146.15,711.5M140.55,711.5L146.15,705.9" stroke="#000" stroke-width="1.2" fill="none"/>
<rect x="150.62" y="706.9" width="12.3" height="20.7" fill="#fff" stroke="#000" stroke-width="1.4" />
<line x1="156.77" y1="727.6" x2="156.77" y2="732.8" stroke="#000" stroke-width="1.4" />
<text x="160.47" y="734.6" font-family="&quot;Liberation Serif&quot;,serif" font-size="14.6" text-anchor="end" font-weight="normal" fill="#000" transform="rotate(-90 160.47 734.6)" textLength="22.99" lengthAdjust="spacingAndGlyphs" >WY</text>
<path d="M156.77,703V710M153.27,703H160.27M153.27,710H160.27" stroke="#000" stroke-width="1.4" fill="none"/>
<path d="M148.77,701.1L154.37,706.7M148.77,706.7L154.37,701.1" stroke="#000" stroke-width="1.2" fill="none"/>
<path d="M153.57,706.3L159.17,711.9M153.57,711.9L159.17,706.3" stroke="#000" stroke-width="1.2" fill="none"/>
<path d="M158.97,702.2L164.57,707.8M158.97,707.8L164.57,702.2" stroke="#000" stroke-width="1.2" fill="none"/>
<rect x="168.84" y="718.9" width="12.3" height="8.7" fill="#fff" stroke="#000" stroke-width="1.4" />
<line x1="174.99" y1="727.6" x2="174.99" y2="732.8" stroke="#000" stroke-width="1.4" />
<text x="178.69" y="734.6" font-family="&quot;Liberation Serif&quot;,serif" font-size="14.6" text-anchor="end" font-weight="normal" fill="#000" transform="rotate(-90 178.69 734.6)" textLength="43.83" lengthAdjust="spacingAndGlyphs" >YF WY</text>
<path d="M174.99,717V720M171.49,717H178.49M171.49,720H178.49" stroke="#000" stroke-width="1.4" fill="none"/>
<path d="M167.19,715.2L172.79,720.8M167.19,720.8L172.79,715.2" stroke="#000" stroke-width="1.2" fill="none"/>
<path d="M172.19,715.7L177.79,721.3M172.19,721.3L177.79,715.7" stroke="#000" stroke-width="1.2" fill="none"/>
<path d="M177.19,715.2L182.79,720.8M177.19,720.8L182.79,715.2" stroke="#000" stroke-width="1.2" fill="none"/>
<rect x="187.06" y="689.3" width="12.3" height="38.3" fill="#fff" stroke="#000" stroke-width="1.4" />
<line x1="193.21" y1="727.6" x2="193.21" y2="732.8" stroke="#000" stroke-width="1.4" />
<text x="196.91" y="734.6" font-family="&quot;Liberation Serif&quot;,serif" font-size="14.6" text-anchor="end" font-weight="normal" fill="#000" transform="rotate(-90 196.91 734.6)" textLength="13.8" lengthAdjust="spacingAndGlyphs" >wt</text>
<path d="M193.21,681V696.6M189.71,681H196.71M189.71,696.6H196.71" stroke="#000" stroke-width="1.4" fill="none"/>
<path d="M190.41,678L196.01,683.6M190.41,683.6L196.01,678" stroke="#000" stroke-width="1.2" fill="none"/>
<path d="M190.41,686.4L196.01,692M190.41,692L196.01,686.4" stroke="#000" stroke-width="1.2" fill="none"/>
<path d="M185.21,693.3L190.81,698.9M185.21,698.9L190.81,693.3" stroke="#000" stroke-width="1.2" fill="none"/>
<rect x="205.28" y="713.6" width="12.3" height="14" fill="#fff" stroke="#000" stroke-width="1.4" />
<line x1="211.43" y1="727.6" x2="211.43" y2="732.8" stroke="#000" stroke-width="1.4" />
<text x="215.13" y="734.6" font-family="&quot;Liberation Serif&quot;,serif" font-size="14.6" text-anchor="end" font-weight="normal" fill="#000" transform="rotate(-90 215.13 734.6)" textLength="30.67" lengthAdjust="spacingAndGlyphs" >WFV</text>
<path d="M211.43,712V715M207.93,712H214.93M207.93,715H214.93" stroke="#000" stroke-width="1.4" fill="none"/>
<path d="M203.63,709.7L209.23,715.3M203.63,715.3L209.23,709.7" stroke="#000" stroke-width="1.2" fill="none"/>
<path d="M208.33,711.2L213.93,716.8M208.33,716.8L213.93,711.2" stroke="#000" stroke-width="1.2" fill="none"/>
<path d="M213.93,711.2L219.53,716.8M213.93,716.8L219.53,711.2" stroke="#000" stroke-width="1.2" fill="none"/>
<rect x="223.5" y="709.5" width="12.3" height="18.1" fill="#fff" stroke="#000" stroke-width="1.4" />
<line x1="229.65" y1="727.6" x2="229.65" y2="732.8" stroke="#000" stroke-width="1.4" />
<text x="233.35" y="734.6" font-family="&quot;Liberation Serif&quot;,serif" font-size="14.6" text-anchor="end" font-weight="normal" fill="#000" transform="rotate(-90 233.35 734.6)" textLength="22.99" lengthAdjust="spacingAndGlyphs" >WY</text>
<path d="M229.65,707V711M226.15,707H233.15M226.15,711H233.15" stroke="#000" stroke-width="1.4" fill="none"/>
<path d="M221.85,704.5L227.45,710.1M221.85,710.1L227.45,704.5" stroke="#000" stroke-width="1.2" fill="none"/>
<path d="M226.95,708.8L232.55,714.4M226.95,714.4L232.55,708.8" stroke="#000" stroke-width="1.2" fill="none"/>
<path d="M231.95,706L237.55,711.6M231.95,711.6L237.55,706" stroke="#000" stroke-width="1.2" fill="none"/>
<rect x="241.72" y="722.2" width="12.3" height="5.4" fill="#fff" stroke="#000" stroke-width="1.4" />
<line x1="247.87" y1="727.6" x2="247.87" y2="732.8" stroke="#000" stroke-width="1.4" />
<text x="251.57" y="734.6" font-family="&quot;Liberation Serif&quot;,serif" font-size="14.6" text-anchor="end" font-weight="normal" fill="#000" transform="rotate(-90 251.57 734.6)" textLength="56.61" lengthAdjust="spacingAndGlyphs" >WFV WY</text>
<path d="M247.87,720.5V722.5M244.37,720.5H251.37M244.37,722.5H251.37" stroke="#000" stroke-width="1.4" fill="none"/>
<path d="M240.07,718.2L245.67,723.8M240.07,723.8L245.67,718.2" stroke="#000" stroke-width="1.2" fill="none"/>
<path d="M245.07,718.7L250.67,724.3M245.07,724.3L250.67,718.7" stroke="#000" stroke-width="1.2" fill="none"/>
<path d="M250.07,718.2L255.67,723.8M250.07,723.8L255.67,718.2" stroke="#000" stroke-width="1.2" fill="none"/>
<rect x="259.94" y="593.4" width="12.3" height="134.2" fill="#fff" stroke="#000" stroke-width="1.4" />
<line x1="266.09" y1="727.6" x2="266.09" y2="732.8" stroke="#000" stroke-width="1.4" />
<text x="269.79" y="734.6" font-family="&quot;Liberation Serif&quot;,serif" font-size="14.6" text-anchor="end" font-weight="normal" fill="#000" transform="rotate(-90 269.79 734.6)" textLength="20.7" lengthAdjust="spacingAndGlyphs" >p53</text>
<path d="M266.09,578.9V604.3M262.59,578.9H269.59M262.59,604.3H269.59" stroke="#000" stroke-width="1.4" fill="none"/>
<path d="M262.49,561.6L268.09,567.2M262.49,567.2L268.09,561.6" stroke="#000" stroke-width="1.2" fill="none"/>
<path d="M257.69,605.2L263.29,610.8M257.69,610.8L263.29,605.2" stroke="#000" stroke-width="1.2" fill="none"/>
<path d="M263.29,602.4L268.89,608M263.29,608L268.89,602.4" stroke="#000" stroke-width="1.2" fill="none"/>
<rect x="278.16" y="725.3" width="12.3" height="2.3" fill="#fff" stroke="#000" stroke-width="1.4" />
<line x1="284.31" y1="727.6" x2="284.31" y2="732.8" stroke="#000" stroke-width="1.4" />
<text x="288.01" y="734.6" font-family="&quot;Liberation Serif&quot;,serif" font-size="14.6" text-anchor="end" font-weight="normal" fill="#000" transform="rotate(-90 288.01 734.6)" textLength="64.02" lengthAdjust="spacingAndGlyphs" >p53 R175H</text>
<path d="M284.31,723.5V725.5M280.81,723.5H287.81M280.81,725.5H287.81" stroke="#000" stroke-width="1.4" fill="none"/>
<path d="M276.51,721.7L282.11,727.3M276.51,727.3L282.11,721.7" stroke="#000" stroke-width="1.2" fill="none"/>
<path d="M281.51,721.7L287.11,727.3M281.51,727.3L287.11,721.7" stroke="#000" stroke-width="1.2" fill="none"/>
<path d="M286.51,721.7L292.11,727.3M286.51,727.3L292.11,721.7" stroke="#000" stroke-width="1.2" fill="none"/>
<line x1="113.8" y1="794" x2="180.5" y2="794" stroke="#000" stroke-width="1.6" />
<line x1="187.1" y1="794" x2="253.6" y2="794" stroke="#000" stroke-width="1.6" />
<text x="147.2" y="811.2" font-family="&quot;Liberation Serif&quot;,serif" font-size="15" text-anchor="middle" font-weight="normal" fill="#000" >TA*p63γ</text>
<text x="149.5" y="828.3" font-family="&quot;Liberation Serif&quot;,serif" font-size="15" text-anchor="middle" font-weight="normal" fill="#000" >FWL</text>
<text x="220.4" y="811.2" font-family="&quot;Liberation Serif&quot;,serif" font-size="15" text-anchor="middle" font-weight="normal" fill="#000" >GTAp63γ</text>
<text x="221.2" y="828.3" font-family="&quot;Liberation Serif&quot;,serif" font-size="15" text-anchor="middle" font-weight="normal" fill="#000" >FWL</text>
<line x1="102.5" y1="640.8" x2="193.1" y2="640.8" stroke="#222" stroke-width="1.6" />
<path d="M142.85,633.8L146.85,633.8M143.45,631.38L146.25,636.22M146.25,631.38L143.45,636.22M148.75,633.8L152.75,633.8M149.35,631.38L152.15,636.22M152.15,631.38L149.35,636.22" stroke="#333" stroke-width="1.0" fill="none" stroke-linecap="round"/>
<line x1="102.5" y1="655" x2="120.9" y2="655" stroke="#222" stroke-width="1.6" />
<path d="M100.85,648L104.85,648M101.45,645.58L104.25,650.42M104.25,645.58L101.45,650.42M106.75,648L110.75,648M107.35,645.58L110.15,650.42M110.15,645.58L107.35,650.42M112.65,648L116.65,648M113.25,645.58L116.05,650.42M116.05,645.58L113.25,650.42M118.55,648L122.55,648M119.15,645.58L121.95,650.42M121.95,645.58L119.15,650.42" stroke="#333" stroke-width="1.0" fill="none" stroke-linecap="round"/>
<line x1="120.9" y1="675.3" x2="174.7" y2="675.3" stroke="#222" stroke-width="1.6" />
<path d="M136.95,668.3L140.95,668.3M137.55,665.88L140.35,670.72M140.35,665.88L137.55,670.72M142.85,668.3L146.85,668.3M143.45,665.88L146.25,670.72M146.25,665.88L143.45,670.72M148.75,668.3L152.75,668.3M149.35,665.88L152.15,670.72M152.15,665.88L149.35,670.72M154.65,668.3L158.65,668.3M155.25,665.88L158.05,670.72M158.05,665.88L155.25,670.72" stroke="#333" stroke-width="1.0" fill="none" stroke-linecap="round"/>
<line x1="193.1" y1="675.3" x2="247.5" y2="675.3" stroke="#222" stroke-width="1.6" />
<path d="M215.35,668.3L219.35,668.3M215.95,665.88L218.75,670.72M218.75,665.88L215.95,670.72M221.25,668.3L225.25,668.3M221.85,665.88L224.65,670.72M224.65,665.88L221.85,670.72" stroke="#333" stroke-width="1.0" fill="none" stroke-linecap="round"/>
<text x="350.8" y="557.4" font-family="&quot;Liberation Serif&quot;,serif" font-size="21" text-anchor="start" font-weight="bold" fill="#000" >f</text>
<line x1="388.2" y1="556.3" x2="388.2" y2="728.6" stroke="#000" stroke-width="1.4" />
<line x1="388.2" y1="727.9" x2="383.2" y2="727.9" stroke="#000" stroke-width="1.4" />
<text x="381.7" y="730.9" font-family="&quot;Liberation Serif&quot;,serif" font-size="13.3" text-anchor="end" font-weight="normal" fill="#000" >0.0</text>
<line x1="388.2" y1="696.84" x2="383.2" y2="696.84" stroke="#000" stroke-width="1.4" />
<text x="381.7" y="699.84" font-family="&quot;Liberation Serif&quot;,serif" font-size="13.3" text-anchor="end" font-weight="normal" fill="#000" >0.2</text>
<line x1="388.2" y1="665.78" x2="383.2" y2="665.78" stroke="#000" stroke-width="1.4" />
<text x="381.7" y="668.78" font-family="&quot;Liberation Serif&quot;,serif" font-size="13.3" text-anchor="end" font-weight="normal" fill="#000" >0.4</text>
<line x1="388.2" y1="634.72" x2="383.2" y2="634.72" stroke="#000" stroke-width="1.4" />
<text x="381.7" y="637.72" font-family="&quot;Liberation Serif&quot;,serif" font-size="13.3" text-anchor="end" font-weight="normal" fill="#000" >0.6</text>
<line x1="388.2" y1="603.66" x2="383.2" y2="603.66" stroke="#000" stroke-width="1.4" />
<text x="381.7" y="606.66" font-family="&quot;Liberation Serif&quot;,serif" font-size="13.3" text-anchor="end" font-weight="normal" fill="#000" >0.8</text>
<line x1="388.2" y1="572.6" x2="383.2" y2="572.6" stroke="#000" stroke-width="1.4" />
<text x="381.7" y="575.6" font-family="&quot;Liberation Serif&quot;,serif" font-size="13.3" text-anchor="end" font-weight="normal" fill="#000" >1.0</text>
<line x1="388.2" y1="712.37" x2="385.2" y2="712.37" stroke="#000" stroke-width="1.4" />
<line x1="388.2" y1="681.31" x2="385.2" y2="681.31" stroke="#000" stroke-width="1.4" />
<line x1="388.2" y1="650.25" x2="385.2" y2="650.25" stroke="#000" stroke-width="1.4" />
<line x1="388.2" y1="619.19" x2="385.2" y2="619.19" stroke="#000" stroke-width="1.4" />
<line x1="388.2" y1="588.13" x2="385.2" y2="588.13" stroke="#000" stroke-width="1.4" />
<line x1="388.2" y1="557.07" x2="385.2" y2="557.07" stroke="#000" stroke-width="1.4" />
<line x1="383.2" y1="727.9" x2="645.1" y2="727.9" stroke="#000" stroke-width="1.4" />
<line x1="399.4" y1="727.9" x2="399.4" y2="732.9" stroke="#000" stroke-width="1.4" />
<text x="399.4" y="746.3" font-family="&quot;Liberation Serif&quot;,serif" font-size="13.3" text-anchor="middle" font-weight="normal" fill="#000" >0</text>
<line x1="421.72" y1="727.9" x2="421.72" y2="730.9" stroke="#000" stroke-width="1.4" />
<line x1="444.04" y1="727.9" x2="444.04" y2="732.9" stroke="#000" stroke-width="1.4" />
<text x="444.04" y="746.3" font-family="&quot;Liberation Serif&quot;,serif" font-size="13.3" text-anchor="middle" font-weight="normal" fill="#000" >200</text>
<line x1="466.36" y1="727.9" x2="466.36" y2="730.9" stroke="#000" stroke-width="1.4" />
<line x1="488.68" y1="727.9" x2="488.68" y2="732.9" stroke="#000" stroke-width="1.4" />
<text x="488.68" y="746.3" font-family="&quot;Liberation Serif&quot;,serif" font-size="13.3" text-anchor="middle" font-weight="normal" fill="#000" >400</text>
<line x1="511" y1="727.9" x2="511" y2="730.9" stroke="#000" stroke-width="1.4" />
<line x1="533.32" y1="727.9" x2="533.32" y2="732.9" stroke="#000" stroke-width="1.4" />
<text x="533.32" y="746.3" font-family="&quot;Liberation Serif&quot;,serif" font-size="13.3" text-anchor="middle" font-weight="normal" fill="#000" >600</text>
<line x1="555.64" y1="727.9" x2="555.64" y2="730.9" stroke="#000" stroke-width="1.4" />
<line x1="577.96" y1="727.9" x2="577.96" y2="732.9" stroke="#000" stroke-width="1.4" />
<text x="577.96" y="746.3" font-family="&quot;Liberation Serif&quot;,serif" font-size="13.3" text-anchor="middle" font-weight="normal" fill="#000" >800</text>
<line x1="600.28" y1="727.9" x2="600.28" y2="730.9" stroke="#000" stroke-width="1.4" />
<line x1="622.6" y1="727.9" x2="622.6" y2="732.9" stroke="#000" stroke-width="1.4" />
<text x="622.6" y="746.3" font-family="&quot;Liberation Serif&quot;,serif" font-size="13.3" text-anchor="middle" font-weight="normal" fill="#000" >1000</text>
<line x1="644.92" y1="727.9" x2="644.92" y2="730.9" stroke="#000" stroke-width="1.4" />
<text x="515.6" y="766" font-family="&quot;Liberation Serif&quot;,serif" font-size="15" text-anchor="middle" font-weight="normal" fill="#000" textLength="146.4" lengthAdjust="spacingAndGlyphs" >p300 Taz2 domain [μM]</text>
<text x="362" y="643" font-family="&quot;Liberation Serif&quot;,serif" font-size="15.4" text-anchor="middle" font-weight="normal" fill="#000" transform="rotate(-90 362 643)" >fraction bound</text>
<path d="M399.4,727.9 L399.44,726.22 L399.51,723.79 L399.62,719.97 L399.73,716.41 L399.85,713.08 L400.07,707.04 L400.29,701.7 L400.52,696.94 L400.74,692.67 L401.19,685.33 L401.63,679.24 L402.08,674.1 L402.75,667.75 L403.42,662.59 L404.31,657.04 L405.2,652.6 L406.1,648.94 L407.6,644.22 L409.1,640.48 L410.6,637.81 L412.1,635.54 L413.6,633.55 L415.1,631.81 L416.6,630.27 L418.1,628.88 L419.6,627.6 L421.1,626.39 L422.6,625.24 L424.1,624.15 L425.6,623.12 L427.1,622.14 L428.6,621.21 L430.1,620.32 L431.6,619.47 L433.1,618.66 L434.6,617.88 L436.1,617.14 L437.6,616.41 L439.1,615.71 L440.6,615.03 L442.1,614.37 L443.6,613.72 L445.1,613.09 L446.6,612.48 L448.1,611.88 L449.6,611.3 L451.1,610.73 L452.6,610.18 L454.1,609.63 L455.6,609.11 L457.1,608.59 L458.6,608.08 L460.1,607.59 L461.6,607.1 L463.1,606.62 L464.6,606.16 L466.1,605.7 L467.6,605.24 L469.1,604.8 L470.6,604.35 L472.1,603.92 L473.6,603.49 L475.1,603.06 L476.6,602.63 L478.1,602.22 L479.6,601.81 L481.1,601.41 L482.6,601.01 L484.1,600.62 L485.6,600.23 L487.1,599.86 L488.6,599.48 L490.1,599.11 L491.6,598.75 L493.1,598.39 L494.6,598.04 L496.1,597.69 L497.6,597.35 L499.1,597.01 L500.6,596.67 L502.1,596.34 L503.6,596.01 L505.1,595.68 L506.6,595.35 L508.1,595.03 L509.6,594.71 L511.1,594.4 L512.6,594.08 L514.1,593.77 L515.6,593.47 L517.1,593.17 L518.6,592.87 L520.1,592.58 L521.6,592.3 L523.1,592.02 L524.6,591.74 L526.1,591.47 L527.6,591.19 L529.1,590.92 L530.6,590.66 L532.1,590.39 L533.6,590.13 L535.1,589.86 L536.6,589.6 L538.1,589.33 L539.6,589.07 L541.1,588.8 L542.6,588.53 L544.1,588.26 L545.6,587.99 L547.1,587.71 L548.6,587.43 L550.1,587.15 L551.6,586.86 L553.1,586.57 L554.6,586.27 L556.1,585.97 L557.6,585.67 L559.1,585.36 L560.6,585.06 L562.1,584.74 L563.6,584.43 L565.1,584.12 L566.6,583.8 L568.1,583.48 L569.6,583.17 L571.1,582.85 L572.6,582.54 L574.1,582.23 L575.6,581.91 L577.1,581.61 L578.6,581.3 L580.1,581 L581.6,580.7 L583.1,580.4 L584.6,580.11 L586.1,579.83 L587.6,579.55 L589.1,579.28 L590.6,579.01 L592.1,578.75 L593.6,578.49 L595.1,578.24 L596.6,577.98 L598.1,577.73 L599.6,577.49 L601.1,577.24 L602.6,576.99 L604.1,576.75 L605.6,576.51 L607.1,576.27 L608.6,576.04 L610.1,575.81 L611.6,575.58 L613.1,575.35 L614.6,575.12 L616.1,574.9 L617.6,574.68 L619.1,574.46 L620.6,574.25 L622.1,574.03 L623.6,573.82 L625.1,573.62 L626.6,573.41 L628.1,573.21 L629.6,573.01 L631.1,572.82 L632.6,572.63 L634.1,572.44 L634.4,572.4" fill="none" stroke="#000" stroke-width="1.6" stroke-linejoin="round"/>
<path d="M399.4,727.9 L399.44,723.04 L399.51,716.43 L399.62,706.95 L399.73,698.96 L399.85,692.16 L400.07,681.15 L400.29,672.65 L400.52,665.87 L400.74,660.35 L401.19,651.87 L401.63,645.68 L402.08,640.94 L402.75,635.6 L403.42,631.65 L404.31,627.72 L405.2,624.77 L406.1,622.48 L407.6,619.38 L409.1,616.99 L410.6,614.97 L412.1,613.11 L413.6,611.43 L415.1,609.97 L416.6,608.76 L418.1,607.85 L419.6,607.15 L421.1,606.51 L422.6,605.92 L424.1,605.39 L425.6,604.9 L427.1,604.45 L428.6,604.04 L430.1,603.66 L431.6,603.3 L433.1,602.96 L434.6,602.63 L436.1,602.32 L437.6,602.01 L439.1,601.69 L440.6,601.37 L442.1,601.06 L443.6,600.77 L445.1,600.48 L446.6,600.21 L448.1,599.94 L449.6,599.68 L451.1,599.43 L452.6,599.19 L454.1,598.95 L455.6,598.72 L457.1,598.49 L458.6,598.27 L460.1,598.04 L461.6,597.82 L463.1,597.6 L464.6,597.38 L466.1,597.16 L467.6,596.93 L469.1,596.7 L470.6,596.47 L472.1,596.23 L473.6,595.99 L475.1,595.73 L476.6,595.48 L478.1,595.22 L479.6,594.95 L481.1,594.69 L482.6,594.42 L484.1,594.15 L485.6,593.88 L487.1,593.61 L488.6,593.34 L490.1,593.06 L491.6,592.79 L493.1,592.52 L494.6,592.24 L496.1,591.97 L497.6,591.69 L499.1,591.42 L500.6,591.15 L502.1,590.88 L503.6,590.62 L505.1,590.35 L506.6,590.09 L508.1,589.83 L509.6,589.57 L511.1,589.32 L512.6,589.07 L514.1,588.82 L515.6,588.57 L517.1,588.33 L518.6,588.09 L520.1,587.84 L521.6,587.6 L523.1,587.36 L524.6,587.12 L526.1,586.88 L527.6,586.65 L529.1,586.41 L530.6,586.18 L532.1,585.95 L533.6,585.72 L535.1,585.49 L536.6,585.26 L538.1,585.03 L539.6,584.81 L541.1,584.59 L542.6,584.36 L544.1,584.15 L545.6,583.93 L547.1,583.71 L548.6,583.5 L550.1,583.28 L551.6,583.07 L553.1,582.86 L554.6,582.66 L556.1,582.45 L557.6,582.25 L559.1,582.05 L560.6,581.85 L562.1,581.66 L563.6,581.46 L565.1,581.27 L566.6,581.08 L568.1,580.89 L569.6,580.7 L571.1,580.51 L572.6,580.32 L574.1,580.13 L575.6,579.94 L577.1,579.75 L578.6,579.57 L580.1,579.38 L581.6,579.19 L583.1,579 L584.6,578.82 L586.1,578.63 L587.6,578.44 L589.1,578.25 L590.6,578.05 L592.1,577.86 L593.6,577.67 L595.1,577.48 L596.6,577.28 L598.1,577.09 L599.6,576.89 L601.1,576.7 L602.6,576.51 L604.1,576.31 L605.6,576.12 L607.1,575.93 L608.6,575.73 L610.1,575.54 L611.6,575.35 L613.1,575.15 L614.6,574.96 L616.1,574.77 L617.6,574.57 L619.1,574.38 L620.6,574.18 L622.1,573.99 L623.6,573.8 L625.1,573.6 L626.6,573.41 L628.1,573.21 L629.6,573.02 L631.1,572.83 L632.6,572.63 L634.1,572.44 L634.4,572.4" fill="none" stroke="#e41a1c" stroke-width="1.6" stroke-linejoin="round"/>
<circle cx="399.4" cy="727.9" r="1.7" fill="#000"/>
<path d="M400.3,706V718M397.8,706H402.8M397.8,718H402.8" stroke="#000" stroke-width="1.2" fill="none"/>
<circle cx="400.3" cy="712" r="1.7" fill="#000"/>
<path d="M400.8,695V705M398.3,695H403.3M398.3,705H403.3" stroke="#000" stroke-width="1.2" fill="none"/>
<circle cx="400.8" cy="700" r="1.7" fill="#000"/>
<path d="M401.3,685V695M398.8,685H403.8M398.8,695H403.8" stroke="#000" stroke-width="1.2" fill="none"/>
<circle cx="401.3" cy="690" r="1.7" fill="#000"/>
<path d="M401.9,675V685M399.4,675H404.4M399.4,685H404.4" stroke="#000" stroke-width="1.2" fill="none"/>
<circle cx="401.9" cy="680" r="1.7" fill="#000"/>
<path d="M402.4,664V672M399.9,664H404.9M399.9,672H404.9" stroke="#000" stroke-width="1.2" fill="none"/>
<circle cx="402.4" cy="668" r="1.7" fill="#000"/>
<path d="M403.3,658.8V666.8M400.8,658.8H405.8M400.8,666.8H405.8" stroke="#000" stroke-width="1.2" fill="none"/>
<circle cx="403.3" cy="662.8" r="1.7" fill="#000"/>
<path d="M404.1,650.4V660.4M401.6,650.4H406.6M401.6,660.4H406.6" stroke="#000" stroke-width="1.2" fill="none"/>
<circle cx="404.1" cy="655.4" r="1.7" fill="#000"/>
<path d="M405.3,646V654M402.8,646H407.8M402.8,654H407.8" stroke="#000" stroke-width="1.2" fill="none"/>
<circle cx="405.3" cy="650" r="1.7" fill="#000"/>
<path d="M406.9,639.5V651.5M404.4,639.5H409.4M404.4,651.5H409.4" stroke="#000" stroke-width="1.2" fill="none"/>
<circle cx="406.9" cy="645.5" r="1.7" fill="#000"/>
<path d="M409.4,632.3V646.3M406.9,632.3H411.9M406.9,646.3H411.9" stroke="#000" stroke-width="1.2" fill="none"/>
<circle cx="409.4" cy="639.3" r="1.7" fill="#000"/>
<path d="M418.8,625.1V631.1M416.3,625.1H421.3M416.3,631.1H421.3" stroke="#000" stroke-width="1.2" fill="none"/>
<circle cx="418.8" cy="628.1" r="1.7" fill="#000"/>
<circle cx="437.1" cy="616.4" r="1.7" fill="#000"/>
<circle cx="475.1" cy="603.1" r="1.7" fill="#000"/>
<circle cx="551.2" cy="586.9" r="1.7" fill="#000"/>
<circle cx="634.2" cy="572.4" r="1.7" fill="#000"/>
<rect x="397.8" y="726.3" width="3.2" height="3.2" fill="#e41a1c" stroke="none" stroke-width="0" />
<path d="M400.1,693V697M397.6,693H402.6M397.6,697H402.6" stroke="#e41a1c" stroke-width="1.3" fill="none"/>
<rect x="398.5" y="693.4" width="3.2" height="3.2" fill="#e41a1c" stroke="none" stroke-width="0" />
<path d="M400.6,664.5V672.5M398.1,664.5H403.1M398.1,672.5H403.1" stroke="#e41a1c" stroke-width="1.3" fill="none"/>
<rect x="399" y="666.9" width="3.2" height="3.2" fill="#e41a1c" stroke="none" stroke-width="0" />
<path d="M401.2,642.7V646.7M398.7,642.7H403.7M398.7,646.7H403.7" stroke="#e41a1c" stroke-width="1.3" fill="none"/>
<rect x="399.6" y="643.1" width="3.2" height="3.2" fill="#e41a1c" stroke="none" stroke-width="0" />
<path d="M403.9,624.3V630.3M401.4,624.3H406.4M401.4,630.3H406.4" stroke="#e41a1c" stroke-width="1.3" fill="none"/>
<rect x="402.3" y="625.7" width="3.2" height="3.2" fill="#e41a1c" stroke="none" stroke-width="0" />
<path d="M408.6,614.4V620.4M406.1,614.4H411.1M406.1,620.4H411.1" stroke="#e41a1c" stroke-width="1.3" fill="none"/>
<rect x="407" y="615.8" width="3.2" height="3.2" fill="#e41a1c" stroke="none" stroke-width="0" />
<path d="M418,605.5V609.5M415.5,605.5H420.5M415.5,609.5H420.5" stroke="#e41a1c" stroke-width="1.3" fill="none"/>
<rect x="416.4" y="605.9" width="3.2" height="3.2" fill="#e41a1c" stroke="none" stroke-width="0" />
<path d="M437.1,600.3V606.3M434.6,600.3H439.6M434.6,606.3H439.6" stroke="#e41a1c" stroke-width="1.3" fill="none"/>
<rect x="435.5" y="601.7" width="3.2" height="3.2" fill="#e41a1c" stroke="none" stroke-width="0" />
<path d="M475.1,592.8V598.8M472.6,592.8H477.6M472.6,598.8H477.6" stroke="#e41a1c" stroke-width="1.3" fill="none"/>
<rect x="473.5" y="594.2" width="3.2" height="3.2" fill="#e41a1c" stroke="none" stroke-width="0" />
<path d="M551.2,580.1V585.1M548.7,580.1H553.7M548.7,585.1H553.7" stroke="#e41a1c" stroke-width="1.3" fill="none"/>
<rect x="549.6" y="581" width="3.2" height="3.2" fill="#e41a1c" stroke="none" stroke-width="0" />
<rect x="632.6" y="570.8" width="3.2" height="3.2" fill="#e41a1c" stroke="none" stroke-width="0" />
<line x1="549.6" y1="646" x2="567.5" y2="646" stroke="#000" stroke-width="1.6" />
<circle cx="558.5" cy="646" r="1.8" fill="#000"/>
<text x="573.4" y="650.4" font-family="&quot;Liberation Serif&quot;,serif" font-size="14.5" text-anchor="start" font-weight="normal" fill="#000" textLength="68.2" lengthAdjust="spacingAndGlyphs" >TA*-GTA*</text>
<line x1="549.6" y1="665.2" x2="567.5" y2="665.2" stroke="#e41a1c" stroke-width="1.6" />
<rect x="556.9" y="663.6" width="3.2" height="3.2" fill="#e41a1c" stroke="none" stroke-width="0" />
<text x="573.4" y="669.8" font-family="&quot;Liberation Serif&quot;,serif" font-size="14.5" text-anchor="start" font-weight="normal" fill="#000" textLength="70.7" lengthAdjust="spacingAndGlyphs" >GTA-GTA*</text>
<rect x="464.2" y="676.1" width="180.9" height="46.8" fill="#fff" stroke="#000" stroke-width="1.3" />
<line x1="464.2" y1="699.1" x2="645.1" y2="699.1" stroke="#000" stroke-width="1.3" />
<line x1="515.5" y1="676.1" x2="515.5" y2="722.9" stroke="#000" stroke-width="1.3" />
<line x1="580.1" y1="676.1" x2="580.1" y2="722.9" stroke="#000" stroke-width="1.3" />
<text x="521.6" y="692.2" font-family="&quot;Liberation Serif&quot;,serif" font-size="12.3" text-anchor="start" font-weight="normal" fill="#000" textLength="54.9" lengthAdjust="spacingAndGlyphs" >TA*-GTA*</text>
<text x="584.8" y="692.2" font-family="&quot;Liberation Serif&quot;,serif" font-size="12.3" text-anchor="start" font-weight="normal" fill="#000" textLength="58.3" lengthAdjust="spacingAndGlyphs" >GTA-GTA*</text>
<text x="469.7" y="715.8" font-family="&quot;Liberation Serif&quot;,serif" font-size="12.3" text-anchor="start" font-weight="normal" fill="#000" textLength="43" lengthAdjust="spacingAndGlyphs" >Kd [μM]</text>
<text x="518.3" y="715.8" font-family="&quot;Liberation Serif&quot;,serif" font-size="12.3" text-anchor="start" font-weight="normal" fill="#000" textLength="59.6" lengthAdjust="spacingAndGlyphs" >13.18 ± 0.93</text>
<text x="584.3" y="715.8" font-family="&quot;Liberation Serif&quot;,serif" font-size="12.3" text-anchor="start" font-weight="normal" fill="#000" textLength="54.6" lengthAdjust="spacingAndGlyphs" >4.79 ± 0.24</text>
</svg></body></html>
